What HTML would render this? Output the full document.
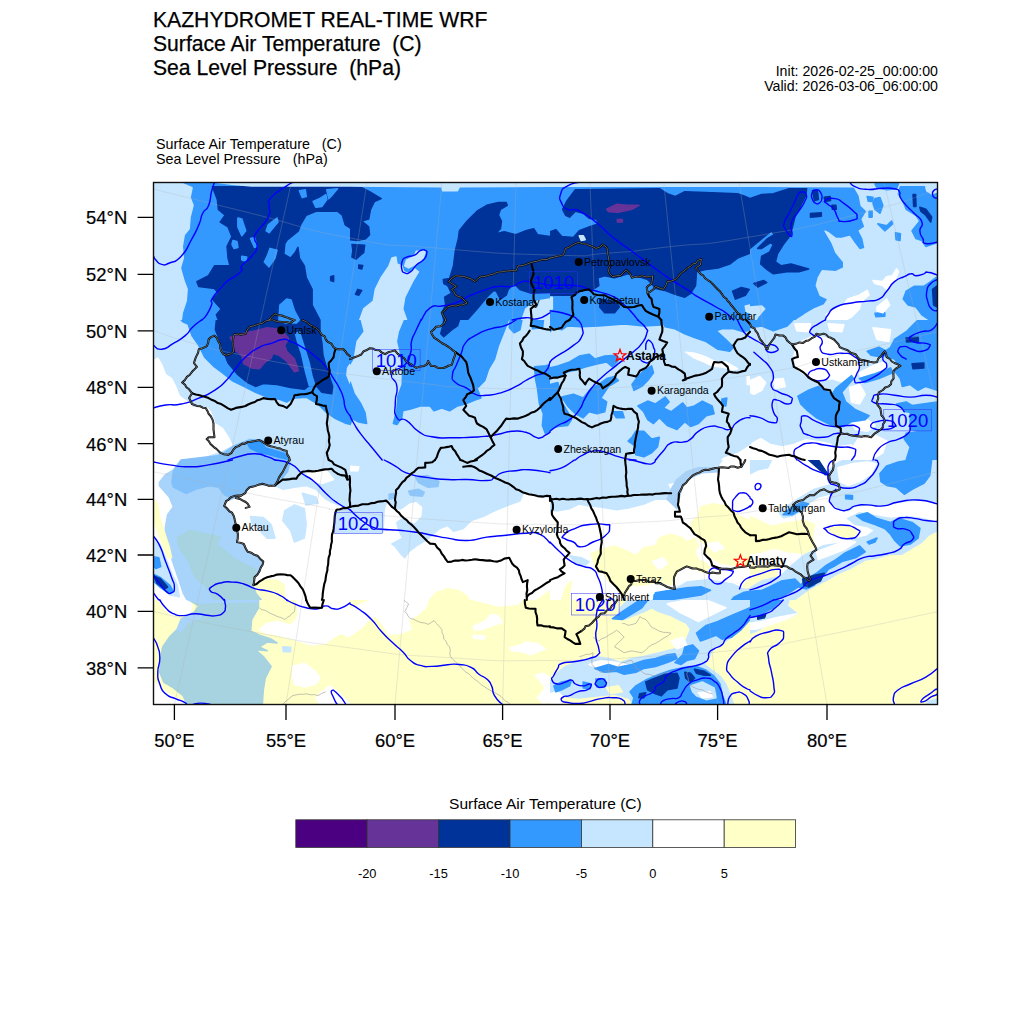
<!DOCTYPE html>
<html><head><meta charset="utf-8"><title>WRF</title>
<style>
html,body{margin:0;padding:0;background:#fff;}
body{width:1024px;height:1024px;overflow:hidden;font-family:"Liberation Sans",sans-serif;}
svg{display:block;position:absolute;left:0;top:0;}
text{font-family:"Liberation Sans",sans-serif;fill:#000;}
.t1{font-size:21.15px;stroke:#000;stroke-width:0.25px;}
.t2{font-size:14.3px;}
.t3{font-size:14.18px;}
.ax{font-size:18.4px;stroke:#000;stroke-width:0.2px;}
.cb{font-size:12.8px;}
.city{font-size:10.6px;}
.cap{font-size:12px;font-weight:bold;}
.cl{font-size:18.5px;fill:#0000ff;}
</style></head><body>
<svg width="1024" height="1024" viewBox="0 0 1024 1024">
<defs><clipPath id="mc"><rect x="153" y="182" width="784" height="522"/></clipPath></defs>
<g clip-path="url(#mc)">
<rect x="153" y="182" width="784" height="522" fill="#ffffff"/>
<!-- fills.svg -->
<defs><clipPath id="t0"><rect x="150.0" y="180.0" width="200.0" height="140.0"/></clipPath><clipPath id="t1"><rect x="350.0" y="180.0" width="200.0" height="140.0"/></clipPath><clipPath id="t2"><rect x="550.0" y="180.0" width="200.0" height="140.0"/></clipPath><clipPath id="t3"><rect x="750.0" y="180.0" width="200.0" height="140.0"/></clipPath><clipPath id="t4"><rect x="150.0" y="320.0" width="200.0" height="140.0"/></clipPath><clipPath id="t5"><rect x="350.0" y="320.0" width="200.0" height="140.0"/></clipPath><clipPath id="t6"><rect x="550.0" y="320.0" width="200.0" height="140.0"/></clipPath><clipPath id="t7"><rect x="750.0" y="320.0" width="200.0" height="140.0"/></clipPath><clipPath id="t8"><rect x="150.0" y="460.0" width="200.0" height="140.0"/></clipPath><clipPath id="t9"><rect x="350.0" y="460.0" width="200.0" height="140.0"/></clipPath><clipPath id="t10"><rect x="550.0" y="460.0" width="200.0" height="140.0"/></clipPath><clipPath id="t11"><rect x="750.0" y="460.0" width="200.0" height="140.0"/></clipPath><clipPath id="t12"><rect x="150.0" y="600.0" width="200.0" height="140.0"/></clipPath><clipPath id="t13"><rect x="350.0" y="600.0" width="200.0" height="140.0"/></clipPath><clipPath id="t14"><rect x="550.0" y="600.0" width="200.0" height="140.0"/></clipPath><clipPath id="t15"><rect x="750.0" y="600.0" width="200.0" height="140.0"/></clipPath></defs>
<g clip-path="url(#t0)" stroke-width="1.6" stroke-linejoin="round"><rect x="149.0" y="179.0" width="202.0" height="142.0" fill="#3399ff"/><polygon fill="#c6e6ff" stroke="#c6e6ff" points="150.0,180.0 183.2,183.9 192.0,187.8 190.0,197.6 193.0,205.4 190.0,217.1 189.1,228.8 184.2,234.7 182.2,246.4 183.2,258.1 180.3,267.9 184.2,281.6 187.1,289.4 186.1,301.1 182.2,312.8 181.2,320.0 150.0,320.0"/><polygon fill="#003399" stroke="#003399" points="212.5,186.8 350.0,186.8 350.0,227.9 345.3,224.9 342.4,215.2 337.5,211.2 316.0,211.2 306.2,215.2 300.4,224.9 298.4,230.8 286.7,240.5 284.8,243.5 283.8,254.2 290.6,258.1 295.5,252.3 297.9,247.4 299.4,258.1 304.3,265.9 306.2,277.7 312.1,289.4 312.1,305.0 319.9,320.0 218.4,320.0 216.4,314.8 221.3,308.9 212.5,299.1 218.4,293.3 214.5,288.4 198.8,286.4 196.9,281.6 208.6,275.7 214.5,265.9 230.1,265.9 228.1,258.1 227.1,246.4 232.0,236.6 228.1,226.9 220.3,222.0 225.2,215.2 218.4,209.3 217.4,199.5"/><polygon fill="#3399ff" stroke="#3399ff" points="237.9,218.1 241.8,219.1 245.7,230.8 241.8,235.7 237.9,226.9"/><polygon fill="#3399ff" stroke="#3399ff" points="233.0,240.5 236.9,241.5 237.9,247.4 234.0,248.4 232.0,244.5"/><polygon fill="#3399ff" stroke="#3399ff" points="277.0,218.1 277.9,222.0 269.1,232.7 266.2,230.8 268.2,224.9"/><polygon fill="#3399ff" stroke="#3399ff" points="250.6,238.6 254.5,237.6 257.0,246.4 254.5,247.4"/><polygon fill="#3399ff" stroke="#3399ff" points="270.1,248.4 277.0,250.3 275.0,258.1 269.1,266.9 264.3,262.0 267.2,256.2"/><polygon fill="#3399ff" stroke="#3399ff" points="241.8,256.2 246.7,257.1 245.7,261.1 241.8,260.1"/><polygon fill="#3399ff" stroke="#3399ff" points="313.1,201.5 319.9,198.6 325.8,194.6 326.8,199.5 321.9,206.4 316.0,207.3"/><polygon fill="#3399ff" stroke="#3399ff" points="299.4,190.7 305.3,189.8 306.2,196.6 302.3,197.6"/><polygon fill="#3399ff" stroke="#3399ff" points="326.8,189.8 337.5,188.8 332.6,194.6 328.7,198.6"/><polygon fill="#3399ff" stroke="#3399ff" points="278.9,320.0 279.9,305.0 286.7,299.1 291.0,300.1 294.5,310.9 299.4,320.0"/><polygon fill="#003399" stroke="#003399" points="330.7,276.7 333.6,275.7 333.6,281.6 330.7,280.6"/><polygon fill="#c6e6ff" stroke="#c6e6ff" points="214.5,182.0 350.0,182.0 350.0,185.9 251.6,185.9 232.0,184.3"/></g>
<g clip-path="url(#t1)" stroke-width="1.6" stroke-linejoin="round"><rect x="349.0" y="179.0" width="202.0" height="142.0" fill="#3399ff"/><polygon fill="#003399" stroke="#003399" points="350.0,186.8 361.7,187.8 369.5,191.7 381.2,198.6 374.4,201.5 370.5,209.3 368.6,219.1 361.7,221.0 368.6,226.9 369.5,234.7 365.6,238.6 357.8,240.5 350.0,239.6"/><polygon fill="#003399" stroke="#003399" points="352.0,244.5 364.6,245.4 363.7,252.3 355.9,259.1 352.0,257.1 352.9,250.3"/><polygon fill="#003399" stroke="#003399" points="357.8,289.4 361.7,290.4 358.8,295.2 355.5,294.3"/><polygon fill="#003399" stroke="#003399" points="358.8,265.0 362.7,265.5 361.7,268.9 358.8,268.3"/><polygon fill="#c6e6ff" stroke="#c6e6ff" points="350.0,182.0 550.0,182.0 550.0,186.2 459.4,186.6 457.4,190.7 442.8,190.7 441.8,186.6 350.0,185.9"/><polygon fill="#c6e6ff" stroke="#c6e6ff" points="359.8,320.0 363.7,308.9 373.4,301.1 375.4,289.4 381.2,277.7 389.1,265.9 392.0,258.1 395.9,257.1 396.9,264.0 401.8,265.9 403.7,271.8 408.6,273.8 414.5,268.9 418.4,271.8 412.5,281.6 404.7,297.2 402.7,308.9 406.6,320.0"/><polygon fill="#c6e6ff" stroke="#c6e6ff" points="416.4,251.3 425.2,251.3 423.2,258.1 416.4,264.0 408.6,267.9 404.7,265.9 406.6,260.1 414.5,256.2"/><polygon fill="#003399" stroke="#003399" points="455.5,250.3 458.4,238.6 459.4,230.8 467.2,221.0 477.0,211.2 486.7,205.4 498.4,202.5 506.2,202.5 507.2,205.4 500.4,209.3 498.4,215.2 501.4,221.0 500.4,228.8 495.5,233.7 504.3,231.8 516.0,234.7 525.8,230.8 533.6,228.8 537.5,234.7 550.0,236.6 550.0,292.3 531.6,293.3 519.9,289.4 514.1,283.5 508.2,289.4 506.2,295.2 500.4,299.1 496.5,291.3 493.6,290.4 486.7,297.2 477.0,308.9 467.2,320.0 443.8,320.0 441.8,312.8 445.7,305.0 444.7,297.2 451.6,293.3 447.7,285.5 443.8,283.5 443.4,279.6 449.6,278.6 453.5,265.9"/><polygon fill="#3399ff" stroke="#3399ff" points="509.2,204.4 515.0,202.5 516.0,205.4 512.1,207.3 514.1,211.2 511.1,209.3"/><polygon fill="#c6e6ff" stroke="#c6e6ff" points="521.9,320.0 525.8,308.9 537.5,301.1 550.0,299.1 550.0,320.0"/></g>
<g clip-path="url(#t2)" stroke-width="1.6" stroke-linejoin="round"><rect x="549.0" y="179.0" width="202.0" height="142.0" fill="#3399ff"/><polygon fill="#c6e6ff" stroke="#c6e6ff" points="550.0,182.0 750.0,182.0 750.0,186.2 550.0,186.2"/><polygon fill="#003399" stroke="#003399" points="575.4,189.8 659.4,188.8 667.2,193.7 675.0,196.6 684.8,191.7 712.1,192.7 737.5,193.7 745.3,196.6 750.0,198.6 750.0,253.2 737.5,258.1 729.7,264.0 718.0,267.9 704.3,269.8 696.5,271.8 695.5,285.5 690.6,293.3 684.8,297.2 675.0,294.3 665.2,290.4 655.5,288.4 651.6,283.5 647.7,279.6 635.9,275.7 628.1,273.8 614.5,277.7 604.7,275.7 597.9,277.7 598.8,285.5 593.0,289.4 576.4,290.4 575.4,295.2 550.0,295.2 550.0,231.8 555.9,229.8 561.7,236.6 573.4,237.6 579.3,230.8 589.1,226.9 597.9,223.9 596.9,219.1 589.1,218.1 583.2,213.2 575.4,211.2 569.5,217.1 565.6,215.2 562.7,209.3 566.6,201.5"/><polygon fill="#003399" stroke="#003399" points="599.8,299.1 616.4,302.1 619.3,307.0 614.5,312.8 604.7,312.8 599.8,307.0"/><polygon fill="#003399" stroke="#003399" points="732.6,291.3 741.4,287.4 749.2,289.4 745.3,295.2 735.5,299.1"/><polygon fill="#c6e6ff" stroke="#c6e6ff" points="579.3,235.7 583.2,235.7 585.2,239.6 581.2,240.5"/><polygon fill="#663399" stroke="#663399" points="606.6,209.3 616.4,204.4 628.1,205.4 638.9,205.4 632.0,209.3 618.4,212.2 608.6,211.6"/><polygon fill="#663399" stroke="#663399" points="617.4,219.6 622.3,219.6 622.3,222.0 617.4,222.0"/><polygon fill="#c6e6ff" stroke="#c6e6ff" points="745.3,306.0 750.0,305.0 750.0,312.8 746.3,311.8"/><polygon fill="#c6e6ff" stroke="#c6e6ff" points="550.0,297.2 552.3,297.2 552.3,308.9 550.0,308.9"/></g>
<g clip-path="url(#t3)" stroke-width="1.6" stroke-linejoin="round"><rect x="749.0" y="179.0" width="202.0" height="142.0" fill="#3399ff"/><polygon fill="#c6e6ff" stroke="#c6e6ff" points="750.0,182.0 853.5,182.0 853.5,186.8 750.0,186.2"/><polygon fill="#c6e6ff" stroke="#c6e6ff" points="851.6,182.0 937.5,182.0 937.5,320.0 796.9,320.0 804.7,314.8 814.5,308.9 824.2,305.0 828.1,299.1 820.3,295.2 816.4,285.5 818.4,277.7 822.3,270.8 835.9,271.8 843.8,267.9 843.8,262.0 835.9,252.3 832.0,242.5 825.2,231.2 828.1,232.7 835.9,238.6 841.8,238.6 849.6,236.6 853.5,242.5 859.4,250.3 865.2,248.4 863.3,238.6 859.4,230.8 865.2,226.9 862.3,219.1 867.2,211.2 861.3,205.4 859.4,195.6"/><polygon fill="#003399" stroke="#003399" points="750.0,198.6 761.7,194.6 773.4,193.7 789.1,188.8 806.6,188.8 805.7,195.6 800.8,205.4 794.9,217.1 792.0,228.8 790.0,235.7 783.2,244.5 777.3,254.2 775.4,262.0 781.2,265.9 791.0,264.0 808.6,268.9 798.8,271.8 787.1,271.8 773.4,273.8 767.6,269.8 760.7,264.0 761.7,256.2 769.5,252.3 773.4,244.5 770.5,242.5 761.7,248.4 757.8,248.4 767.6,238.6 774.4,234.7 771.5,230.8 761.7,238.6 750.0,248.4"/><polygon fill="#003399" stroke="#003399" points="753.9,283.5 763.7,280.6 766.6,282.5 757.8,287.0"/><polygon fill="#003399" stroke="#003399" points="810.5,213.6 821.3,212.8 821.3,216.1 810.5,217.1"/><polygon fill="#003399" stroke="#003399" points="812.5,190.7 817.4,190.7 818.4,199.5 814.5,200.5"/><polygon fill="#003399" stroke="#003399" points="824.2,197.2 830.1,196.6 830.5,200.5 825.2,201.5"/><polygon fill="#003399" stroke="#003399" points="832.0,205.4 835.9,205.4 836.3,209.3 832.4,209.3"/><polygon fill="#3399ff" stroke="#3399ff" points="875.0,183.9 898.4,183.9 896.5,188.8 886.7,189.8 877.0,187.8"/><polygon fill="#3399ff" stroke="#3399ff" points="900.4,186.8 937.5,186.8 937.5,242.5 925.8,246.4 921.9,240.5 916.0,238.6 912.1,230.8 919.9,221.0 916.0,215.2 906.2,209.3 902.3,199.5 898.4,193.7"/><polygon fill="#c6e6ff" stroke="#c6e6ff" points="925.8,186.8 937.5,186.8 937.5,191.7 931.6,193.7 926.8,190.7"/><polygon fill="#3399ff" stroke="#3399ff" points="867.2,196.6 873.0,197.2 872.7,201.5 868.2,201.1"/><polygon fill="#3399ff" stroke="#3399ff" points="875.0,198.6 879.9,197.6 882.8,205.4 879.9,213.2 875.0,209.3 873.0,203.4"/><polygon fill="#3399ff" stroke="#3399ff" points="877.9,223.9 886.7,225.9 891.6,221.0 892.6,223.9 884.8,230.8"/><polygon fill="#3399ff" stroke="#3399ff" points="895.5,232.7 900.4,233.7 900.0,240.5 896.1,239.6"/><polygon fill="#3399ff" stroke="#3399ff" points="869.1,211.2 872.1,211.2 872.1,217.1 869.1,217.1"/><polygon fill="#003399" stroke="#003399" points="913.1,194.6 915.6,194.6 916.0,206.4 913.7,206.4"/><polygon fill="#003399" stroke="#003399" points="919.9,207.3 925.8,209.3 931.6,217.1 930.7,222.0 925.8,215.2 920.9,211.2"/><polygon fill="#3399ff" stroke="#3399ff" points="937.5,276.7 930.7,281.6 923.8,286.4 914.1,286.4 906.2,291.3 903.3,299.1 908.2,305.0 916.0,307.0 921.9,314.8 929.7,320.0 937.5,320.0"/><polygon fill="#003399" stroke="#003399" points="932.6,289.4 937.5,285.5 937.5,307.0 933.6,305.0"/><polygon fill="#3399ff" stroke="#3399ff" points="875.0,313.2 884.8,312.8 884.8,316.3 876.0,316.7"/><polygon fill="#ffffff" stroke="#ffffff" points="873.0,280.6 882.8,281.6 886.7,276.7 892.6,275.7 896.5,268.9 898.4,271.8 894.5,281.6 886.7,289.4 882.8,285.5 875.0,283.5"/><polygon fill="#ffffff" stroke="#ffffff" points="847.7,299.1 859.4,295.2 867.2,290.4 869.1,295.2 861.3,301.1 859.4,308.9 851.6,316.7 845.7,320.0 828.1,320.0 826.2,314.8 835.9,308.9 843.8,305.0"/><polygon fill="#ffffff" stroke="#ffffff" points="877.0,307.0 886.7,299.1 889.6,305.0 882.8,312.8 877.0,310.9"/><polygon fill="#c6e6ff" stroke="#c6e6ff" points="750.0,307.0 761.7,306.0 764.6,308.9 757.8,316.7 755.9,320.0 750.0,320.0"/></g>
<g clip-path="url(#t4)" stroke-width="1.6" stroke-linejoin="round"><rect x="149.0" y="319.0" width="202.0" height="142.0" fill="#c6e6ff"/><polygon fill="#3399ff" stroke="#3399ff" points="181.2,320.0 183.2,322.0 188.1,323.9 192.0,335.6 198.8,345.4 204.7,357.1 214.5,366.9 222.3,372.7 232.0,380.5 243.8,386.4 255.5,392.3 267.2,397.1 278.9,399.1 286.7,402.0 292.6,398.1 306.2,397.1 318.0,404.0 325.8,411.8 335.5,418.6 345.3,423.1 350.0,424.3 350.0,320.0"/><polygon fill="#003399" stroke="#003399" points="216.4,320.0 215.4,329.8 220.3,341.5 224.2,353.2 228.1,363.0 237.9,374.7 247.7,382.5 255.5,386.4 263.3,383.5 277.0,384.5 290.6,387.4 304.3,389.3 309.2,385.4 316.0,385.4 321.9,392.3 331.6,393.8 332.6,386.4 326.8,368.8 322.9,355.2 321.9,343.4 319.9,331.7 319.9,320.0"/><polygon fill="#3399ff" stroke="#3399ff" points="295.5,333.7 299.4,331.7 304.3,347.3 309.2,363.0 312.1,376.6 315.0,385.4 309.2,385.4 305.3,370.8 301.4,353.2 297.5,341.5"/><polygon fill="#3399ff" stroke="#3399ff" points="278.9,320.0 299.4,320.0 296.5,322.9 284.8,322.9"/><polygon fill="#663399" stroke="#663399" points="230.1,337.6 241.8,333.7 255.5,330.7 267.2,327.8 277.0,328.8 284.8,333.7 288.7,338.6 284.8,345.4 286.7,351.2 294.5,359.1 298.4,370.8 294.5,371.8 286.7,361.0 278.9,355.2 273.0,353.2 271.1,358.1 265.2,362.0 259.4,368.8 251.6,367.9 243.8,363.9 241.8,355.2 235.9,351.2 234.0,343.4"/><polygon fill="#ffffff" stroke="#ffffff" points="150.0,363.0 157.8,358.1 161.7,364.9 165.6,374.7 171.5,378.6 176.4,388.4 179.3,396.2 187.1,402.0 193.0,407.9 206.6,407.9 210.5,411.8 214.5,423.5 222.3,428.4 228.1,437.2 232.0,445.0 222.3,449.9 208.6,454.8 196.9,459.1 181.2,460.0 150.0,460.0"/><polygon fill="#82c0fa" stroke="#82c0fa" points="181.2,460.0 217.2,455.9 223.4,452.8 232.8,446.6 250.0,439.5 262.5,440.3 268.8,448.1 285.9,451.2 290.6,460.0"/><polygon fill="#3399ff" stroke="#3399ff" points="246.9,441.9 259.4,440.3 265.6,448.1 284.4,453.6 287.5,459.1 279.7,457.5 268.8,454.4 259.4,452.8 250.0,448.1"/><polygon fill="#c6e6ff" stroke="#c6e6ff" points="350.0,364.5 347.7,367.9 346.9,375.1 350.0,382.9"/></g>
<g clip-path="url(#t5)" stroke-width="1.6" stroke-linejoin="round"><rect x="349.0" y="319.0" width="202.0" height="142.0" fill="#c6e6ff"/><polygon fill="#3399ff" stroke="#3399ff" points="350.0,320.0 359.8,320.0 362.7,331.3 355.7,340.7 354.1,350.1 352.5,359.5 350.0,363.9"/><polygon fill="#3399ff" stroke="#3399ff" points="350.0,382.1 351.0,384.5 354.1,393.8 360.4,403.2 365.0,412.6 366.6,423.5 358.8,422.0 352.5,418.8 350.0,424.7"/><polygon fill="#3399ff" stroke="#3399ff" points="404.7,320.0 399.8,331.7 397.9,341.5 399.8,349.3 402.7,368.8 402.3,384.5 397.9,396.2 396.9,409.8 393.4,423.5 396.9,424.5 401.8,417.7 402.7,410.8 410.5,408.9 420.3,405.9 430.1,405.9 434.0,410.8 441.8,407.9 449.6,410.8 457.4,405.9 465.2,404.0 475.0,400.1 480.9,398.1 479.9,395.2 477.0,388.4 484.8,380.5 488.7,368.8 494.5,359.1 498.4,345.4 502.3,335.6 506.2,325.9 508.2,320.0"/><polygon fill="#3399ff" stroke="#3399ff" points="510.2,320.0 521.9,320.0 519.9,329.8 514.1,332.7 509.2,327.8"/><polygon fill="#003399" stroke="#003399" points="443.8,320.0 459.4,320.0 457.4,325.9 451.6,329.8 443.8,336.6 440.8,333.7 442.8,325.9"/><polygon fill="#3399ff" stroke="#3399ff" points="534.6,366.9 545.3,365.9 550.0,364.9 550.0,431.3 545.3,433.3 542.4,425.5 543.4,413.8 539.5,404.0 537.5,388.4 535.5,378.6"/><polygon fill="#3399ff" stroke="#3399ff" points="532.4,320.0 543.4,320.0 542.6,327.8 532.4,328.8"/></g>
<g clip-path="url(#t6)" stroke-width="1.6" stroke-linejoin="round"><rect x="549.0" y="319.0" width="202.0" height="142.0" fill="#c6e6ff"/><polygon fill="#3399ff" stroke="#3399ff" points="550.0,320.0 661.3,320.0 661.3,324.9 643.8,325.9 624.2,323.9 598.8,325.9 581.2,326.8 567.6,325.9 561.7,329.8 553.9,327.8 550.0,331.7"/><polygon fill="#3399ff" stroke="#3399ff" points="661.3,320.0 750.0,320.0 750.0,329.8 743.4,331.7 733.6,328.8 721.9,328.8 716.0,330.7 725.8,339.5 733.6,347.3 729.7,351.2 718.0,349.3 706.2,341.5 694.5,337.6 684.8,333.7 675.0,328.8 665.2,326.8"/><polygon fill="#ffffff" stroke="#ffffff" points="685.7,352.2 694.5,353.2 706.2,357.1 716.0,362.0 725.8,362.0 737.5,368.8 733.6,369.8 721.9,366.9 712.1,365.9 704.3,362.0 694.5,358.1"/><polygon fill="#ffffff" stroke="#ffffff" points="747.3,376.6 750.0,376.6 750.0,384.5 747.3,384.5"/><polygon fill="#ffffff" stroke="#ffffff" points="721.9,460.0 723.8,458.3 737.5,453.8 750.0,445.8 750.0,460.0"/><polygon fill="#3399ff" stroke="#3399ff" points="550.0,367.9 557.8,365.9 569.5,362.0 579.3,356.1 589.1,354.2 594.9,359.1 604.7,356.1 616.4,355.2 619.3,359.1 612.5,366.9 606.6,362.0 596.9,363.9 585.2,366.9 577.3,369.8 567.6,371.8 559.8,375.7 550.0,378.6"/><polygon fill="#3399ff" stroke="#3399ff" points="550.0,384.5 557.8,382.5 559.8,388.4 556.8,396.2 561.7,402.0 567.6,411.8 571.5,419.6 567.6,425.5 557.8,426.4 550.0,429.4"/><polygon fill="#3399ff" stroke="#3399ff" points="561.7,397.1 573.4,394.2 583.2,398.1 591.0,388.4 598.8,384.5 606.6,378.6 614.5,376.6 618.4,380.5 608.6,386.4 600.8,398.1 606.6,402.0 604.7,411.8 596.9,413.8 589.1,411.8 583.2,417.7 575.4,413.8 567.6,405.9"/><polygon fill="#3399ff" stroke="#3399ff" points="612.5,411.8 622.3,411.8 624.2,417.7 616.4,417.7"/><polygon fill="#3399ff" stroke="#3399ff" points="632.0,384.5 637.9,376.6 643.8,370.8 651.6,365.9 653.5,372.7 647.7,380.5 641.8,386.4 634.0,390.3"/><polygon fill="#3399ff" stroke="#3399ff" points="637.9,405.9 647.7,401.1 655.5,404.0 665.2,397.1 669.1,402.0 663.3,407.9 671.1,411.8 678.9,405.9 682.8,403.0 686.7,407.9 694.5,405.9 702.3,401.1 712.1,405.9 714.1,413.8 706.2,415.7 698.4,423.5 690.6,426.4 684.8,421.6 677.0,429.4 667.2,425.5 659.4,417.7 653.5,423.5 647.7,419.6 643.8,411.8"/><polygon fill="#3399ff" stroke="#3399ff" points="635.9,431.3 643.8,431.3 651.6,439.1 659.4,437.2 657.4,447.0 651.6,452.8 643.8,456.7 635.9,454.8 634.0,445.0 628.1,441.1 632.0,437.2"/><polygon fill="#3399ff" stroke="#3399ff" points="721.9,399.1 726.8,398.1 725.8,405.9 721.9,405.0"/></g>
<g clip-path="url(#t7)" stroke-width="1.6" stroke-linejoin="round"><rect x="749.0" y="319.0" width="202.0" height="142.0" fill="#c6e6ff"/><polygon fill="#3399ff" stroke="#3399ff" points="750.0,320.0 793.0,320.0 787.1,325.9 773.4,330.7 761.7,325.9 750.0,327.8"/><polygon fill="#ffffff" stroke="#ffffff" points="796.9,343.4 814.5,335.6 832.0,339.5 841.8,351.2 855.5,357.1 859.4,366.9 855.5,376.6 843.8,382.5 832.0,378.6 820.3,380.5 808.6,376.6 796.9,368.8 793.9,357.1"/><polygon fill="#ffffff" stroke="#ffffff" points="859.4,372.7 875.0,364.9 884.8,362.0 886.7,368.8 875.0,374.7 861.3,378.6"/><polygon fill="#ffffff" stroke="#ffffff" points="750.0,380.5 759.8,376.6 765.6,382.5 761.7,390.3 753.9,394.2 750.0,392.3"/><polygon fill="#ffffff" stroke="#ffffff" points="773.4,379.6 783.2,378.6 785.2,386.4 775.4,388.4"/><polygon fill="#ffffff" stroke="#ffffff" points="794.9,323.9 810.5,323.9 808.6,331.7 796.9,330.7"/><polygon fill="#ffffff" stroke="#ffffff" points="828.1,323.9 843.8,324.9 841.8,331.7 830.1,330.7"/><polygon fill="#ffffff" stroke="#ffffff" points="873.0,327.8 890.6,329.8 888.7,341.5 877.0,339.5"/><polygon fill="#ffffff" stroke="#ffffff" points="849.6,387.4 859.4,384.5 865.2,394.2 859.4,404.0 851.6,402.0"/><polygon fill="#ffffff" stroke="#ffffff" points="750.0,445.8 753.9,442.3 760.9,438.8 770.3,444.6 782.0,447.0 793.8,444.6 805.5,439.9 821.9,442.3 831.2,444.6 835.9,452.8 835.9,460.0 750.0,460.0"/><polygon fill="#ffffff" stroke="#ffffff" points="835.9,447.0 851.6,445.0 855.5,456.7 853.5,460.0 835.9,460.0"/><polygon fill="#ffffff" stroke="#ffffff" points="851.6,421.6 867.2,419.6 875.0,425.5 867.2,431.3 855.5,429.4"/><polygon fill="#ffffff" stroke="#ffffff" points="859.4,437.2 875.0,435.2 886.7,441.1 882.8,452.8 871.1,460.0 855.5,460.0 851.6,448.9"/><polygon fill="#3399ff" stroke="#3399ff" points="797.9,396.2 808.6,390.3 818.4,386.4 832.0,394.2 835.9,388.4 851.6,375.7 853.5,378.6 841.8,392.3 845.7,402.0 855.5,409.8 869.1,415.7 865.2,419.6 851.6,421.6 843.8,426.4 832.0,425.5 816.4,417.7 806.6,409.8 800.8,404.0"/><polygon fill="#3399ff" stroke="#3399ff" points="894.5,339.5 906.2,331.7 918.0,320.0 937.5,320.0 937.5,390.3 925.8,386.4 918.0,390.3 910.2,384.5 902.3,386.4 900.4,378.6 894.5,370.8 900.4,366.9 894.5,359.1 886.7,357.1 882.8,353.2 890.6,347.3"/><polygon fill="#3399ff" stroke="#3399ff" points="867.2,351.2 878.9,347.3 886.7,351.2 882.8,357.1 871.1,355.2"/><polygon fill="#3399ff" stroke="#3399ff" points="859.4,378.6 875.0,373.7 890.6,367.9 892.6,372.7 878.9,378.6 865.2,382.5"/><polygon fill="#003399" stroke="#003399" points="912.1,363.9 923.8,363.0 923.8,367.9 913.1,368.8"/><polygon fill="#003399" stroke="#003399" points="906.2,338.0 918.0,337.2 918.4,341.1 906.6,341.9"/><polygon fill="#3399ff" stroke="#3399ff" points="906.2,433.3 921.9,431.3 929.7,437.2 937.5,441.1 937.5,460.0 906.2,460.0 910.2,447.0 904.3,439.1"/><polygon fill="#3399ff" stroke="#3399ff" points="896.5,404.0 906.2,402.0 916.0,407.9 919.9,413.8 906.2,411.8"/><polygon fill="#3399ff" stroke="#3399ff" points="910.2,405.9 937.5,402.0 937.5,441.1 929.7,437.2 921.9,431.3 910.2,429.4"/></g>
<g clip-path="url(#t8)" stroke-width="1.6" stroke-linejoin="round"><rect x="149.0" y="459.0" width="202.0" height="142.0" fill="#ffffff"/><polygon fill="#c6e6ff" stroke="#c6e6ff" points="286.7,460.0 350.0,460.0 350.0,506.9 337.5,504.9 325.8,499.1 316.0,489.3 306.2,485.4 294.5,487.3 282.8,489.3 275.0,485.4 278.9,477.6 284.8,467.8"/><polygon fill="#ffffff" stroke="#ffffff" points="306.2,471.7 325.8,469.8 333.6,479.5 321.9,483.4 310.2,479.5"/><polygon fill="#c6e6ff" stroke="#c6e6ff" points="250.6,516.6 263.3,517.6 271.1,524.5 275.0,538.1 267.2,538.1 259.4,530.3 251.6,522.5"/><polygon fill="#c6e6ff" stroke="#c6e6ff" points="284.8,510.8 294.5,504.9 304.3,508.8 306.2,524.5 304.3,538.1 294.5,542.0 290.6,530.3 282.8,520.5"/><polygon fill="#c6e6ff" stroke="#c6e6ff" points="302.3,493.2 316.0,497.1 318.0,503.0 306.2,504.9"/><polygon fill="#c6e6ff" stroke="#c6e6ff" points="335.2,511.6 350.0,508.8 350.0,532.7 335.2,532.7"/><polygon fill="#a8d4fb" stroke="#a8d4fb" points="181.2,460.0 286.7,460.0 284.8,467.8 278.9,477.6 275.0,485.4 259.4,484.4 249.6,487.3 241.8,495.2 226.2,501.0 224.2,505.9 232.0,512.7 235.9,524.5 237.9,534.2 236.9,542.0 243.8,544.0 247.7,551.8 257.4,555.7 263.3,561.6 259.4,571.3 254.5,577.2 253.5,585.0 259.4,592.8 263.3,600.0 187.1,600.0 183.2,592.8 179.3,581.1 175.4,569.4 171.5,557.7 167.6,547.9 164.6,538.1 165.6,526.4 167.6,514.7 173.4,506.9 169.5,497.1 159.4,485.6 159.4,482.5 165.6,474.6 173.4,470.0"/><polygon fill="#82c0fa" stroke="#82c0fa" points="181.2,460.0 173.4,471.5 171.9,482.5 173.4,487.1 185.9,493.4 196.9,488.7 209.4,485.6 218.8,487.1 223.4,493.4 225.0,495.0 231.2,498.1 237.5,496.5 243.8,493.4 250.0,487.1 259.4,484.0 275.0,485.6 279.7,480.9 287.5,471.5 290.6,460.0"/><polygon fill="#a6d3df" stroke="#a6d3df" points="177.3,538.1 189.1,530.3 220.3,537.1 216.4,544.0 235.9,559.6 255.5,569.4 253.5,585.0 263.3,600.0 214.5,600.0 204.7,585.0 194.9,577.2 189.1,561.6 179.3,547.9"/><polygon fill="#ffffc8" stroke="#ffffc8" points="254.5,585.0 263.3,580.1 277.0,580.1 283.8,585.0 284.8,600.0 263.3,600.0 257.4,592.8"/><polygon fill="#ffffc8" stroke="#ffffc8" points="153.5,499.1 157.8,504.9 159.8,518.6 163.7,530.3 169.5,547.9 171.5,557.7 167.6,557.7 161.7,542.0 155.9,526.4 153.5,518.6"/><polygon fill="#c6e6ff" stroke="#c6e6ff" points="153.5,538.1 159.8,544.0 165.6,557.7 171.5,573.3 177.3,585.0 179.3,596.7 169.5,594.8 161.7,587.0 153.5,581.1"/><polygon fill="#3399ff" stroke="#3399ff" points="153.5,556.7 158.8,557.7 160.7,566.4 155.9,568.4 153.5,566.4"/><polygon fill="#3399ff" stroke="#3399ff" points="153.5,574.3 159.8,577.2 169.5,585.0 173.0,591.2 168.6,592.8 159.8,587.0 153.5,581.1"/><polygon fill="#003399" stroke="#003399" points="154.3,576.2 160.7,579.1 167.6,587.0 164.6,588.9 156.8,583.0"/></g>
<g clip-path="url(#t9)" stroke-width="1.6" stroke-linejoin="round"><rect x="349.0" y="459.0" width="202.0" height="142.0" fill="#ffffff"/><polygon fill="#c6e6ff" stroke="#c6e6ff" points="350.0,460.0 550.0,460.0 550.0,497.1 537.5,496.1 523.8,492.2 519.9,501.0 506.2,505.9 494.5,510.8 482.8,516.6 471.1,520.5 463.3,528.4 453.5,531.3 447.7,525.4 439.8,528.4 432.0,535.2 426.2,540.1 416.4,545.9 408.6,551.8 404.7,557.7 400.8,553.8 394.9,545.9 392.0,544.0 402.7,538.1 398.8,530.3 396.9,522.5 402.7,518.6 414.5,524.5 422.3,516.6 423.2,506.9 416.4,501.0 408.6,503.0 400.8,508.8 394.9,508.8 387.1,501.0 384.2,508.8 382.8,532.7 350.0,532.7"/><polygon fill="#ffffff" stroke="#ffffff" points="350.0,466.2 358.8,466.8 357.8,470.7 350.0,470.7"/><polygon fill="#8fc6fa" stroke="#8fc6fa" points="415.4,476.6 428.1,475.6 438.9,481.5 437.9,486.4 428.1,487.3 418.4,482.5"/><polygon fill="#8fc6fa" stroke="#8fc6fa" points="408.6,491.2 418.4,489.3 424.2,492.2 422.3,496.1 410.5,495.2"/><polygon fill="#8fc6fa" stroke="#8fc6fa" points="389.1,494.2 394.9,493.2 393.9,498.1 389.1,499.1"/><polygon fill="#ffffc8" stroke="#ffffc8" points="430.1,600.0 435.9,592.8 447.7,588.9 459.4,590.9 467.2,596.7 469.1,600.0"/><polygon fill="#ffffc8" stroke="#ffffc8" points="537.5,600.0 550.0,590.9 550.0,600.0"/></g>
<g clip-path="url(#t10)" stroke-width="1.6" stroke-linejoin="round"><rect x="549.0" y="459.0" width="202.0" height="142.0" fill="#ffffff"/><polygon fill="#c6e6ff" stroke="#c6e6ff" points="550.0,460.0 721.9,460.0 718.0,465.9 702.3,468.8 690.6,469.8 682.8,475.6 677.0,481.5 667.2,483.4 671.1,493.2 667.2,499.1 655.5,499.1 643.8,503.9 628.1,507.9 616.4,509.8 600.8,506.9 589.1,505.9 579.3,503.9 569.5,508.8 557.8,510.8 550.0,510.8"/><polygon fill="#a9d1f6" stroke="#a9d1f6" points="671.1,489.3 677.0,479.5 686.7,471.7 698.4,467.8 718.0,467.8 718.0,471.7 702.3,472.7 690.6,477.6 682.8,485.4 678.9,499.1 677.0,508.8 671.1,503.0 667.2,499.1"/><polygon fill="#ffffc8" stroke="#ffffc8" points="700.4,506.9 712.1,503.9 725.8,505.9 733.6,512.7 745.3,518.6 750.0,520.5 750.0,565.5 735.5,565.5 721.9,563.5 712.1,557.7 706.2,551.8 704.3,544.0 698.4,538.1 694.5,532.3 690.6,526.4 692.6,520.5 698.4,516.6"/><polygon fill="#ffffff" stroke="#ffffff" points="706.2,544.0 718.0,542.0 723.8,547.9 714.1,551.8"/><polygon fill="#ffffc8" stroke="#ffffc8" points="591.0,553.8 600.8,549.8 614.5,545.9 628.1,551.8 635.9,555.7 643.8,547.9 655.5,545.9 659.4,538.1 671.1,534.2 682.8,538.1 686.7,542.0 694.5,538.1 698.4,545.9 694.5,551.8 698.4,559.6 706.2,563.5 712.1,569.4 702.3,572.3 688.7,565.5 678.9,569.4 675.0,577.2 671.1,585.0 659.4,581.1 643.8,585.0 632.0,585.0 624.2,594.8 618.4,588.9 608.6,581.1 602.7,571.3 594.9,565.5"/><polygon fill="#ffffff" stroke="#ffffff" points="652.5,561.6 663.3,557.7 667.2,563.5 659.4,569.4"/><polygon fill="#ffffc8" stroke="#ffffc8" points="561.7,600.0 565.6,587.0 571.5,581.1 569.5,592.8 571.5,600.0"/><polygon fill="#c6e6ff" stroke="#c6e6ff" points="672.9,600.0 672.9,590.3 686.9,582.1 708.0,579.7 733.8,584.4 743.2,589.1 750.0,587.9 750.0,600.0"/><polygon fill="#ffffc8" stroke="#ffffc8" points="743.2,585.6 750.0,577.2 750.0,587.0 745.3,587.9"/><polygon fill="#3399ff" stroke="#3399ff" points="654.1,595.0 670.5,590.3 686.9,587.9 701.0,586.8 710.4,590.3 701.0,595.0 686.9,597.3 668.2,600.0 654.1,600.0"/><polygon fill="#3399ff" stroke="#3399ff" points="733.8,597.3 743.2,592.6 750.0,591.4 750.0,600.0 731.6,600.0"/><polygon fill="#3399ff" stroke="#3399ff" points="655.5,592.8 667.2,590.9 675.0,594.8 671.1,600.0 653.5,600.0"/><polygon fill="#c6e6ff" stroke="#c6e6ff" points="569.5,555.7 581.2,557.7 589.1,561.6 585.2,565.5 575.4,562.5"/></g>
<g clip-path="url(#t11)" stroke-width="1.6" stroke-linejoin="round"><rect x="749.0" y="459.0" width="202.0" height="142.0" fill="#ffffff"/><polygon fill="#ffffc8" stroke="#ffffc8" points="750.0,516.6 771.5,526.4 789.1,522.5 804.7,520.5 814.5,524.5 812.5,536.2 814.5,545.9 806.6,553.8 789.1,551.8 773.4,547.9 761.7,551.8 750.0,553.8"/><polygon fill="#ffffc8" stroke="#ffffc8" points="827.1,527.4 841.8,525.4 855.5,528.4 857.4,534.2 847.7,538.1 834.0,535.2"/><polygon fill="#ffffc8" stroke="#ffffc8" points="750.0,565.5 761.7,566.4 779.3,567.4 775.4,577.2 761.7,585.0 750.0,588.9"/><polygon fill="#c6e6ff" stroke="#c6e6ff" points="750.0,460.0 771.5,460.0 767.6,467.8 757.8,469.8 750.0,473.7"/><polygon fill="#c6e6ff" stroke="#c6e6ff" points="828.1,471.7 835.9,463.9 843.8,460.0 937.5,460.0 937.5,502.0 918.0,500.0 898.4,502.0 882.8,505.9 867.2,504.9 855.5,505.9 847.7,510.8 837.9,507.9 830.1,501.0 832.0,493.2 835.9,487.3 828.1,481.5"/><polygon fill="#ffffff" stroke="#ffffff" points="837.9,467.8 851.6,463.9 867.2,462.0 876.0,463.9 871.1,473.7 859.4,481.5 847.7,485.4 839.8,481.5"/><polygon fill="#3399ff" stroke="#3399ff" points="879.9,473.7 886.7,465.9 898.4,462.0 910.2,460.0 931.6,460.0 929.7,475.6 923.8,483.4 912.1,489.3 904.3,494.2 896.5,487.3 886.7,485.4 880.9,481.5"/><polygon fill="#3399ff" stroke="#3399ff" points="845.7,495.2 852.5,495.5 852.5,499.1 845.7,498.7"/><polygon fill="#003399" stroke="#003399" points="808.6,460.0 818.4,460.0 828.1,474.6 825.2,474.6"/><polygon fill="#c6e6ff" stroke="#c6e6ff" points="779.3,512.7 789.1,504.9 800.8,497.1 814.5,489.3 828.1,485.4 835.9,487.3 832.0,493.2 818.4,497.1 808.6,503.0 800.8,510.8 793.0,515.7 783.2,517.6"/><polygon fill="#3399ff" stroke="#3399ff" points="783.2,514.7 792.0,506.9 802.7,502.0 808.6,503.9 800.8,509.8 792.0,514.7"/><polygon fill="#c6e6ff" stroke="#c6e6ff" points="847.7,518.6 859.4,512.7 875.0,515.7 890.6,518.6 906.2,516.6 921.9,518.6 937.5,522.5 937.5,532.3 929.7,536.2 921.9,544.0 912.1,549.8 902.3,555.7 890.6,555.7 877.0,559.6 865.2,561.6 851.6,569.4 837.9,575.2 828.1,581.1 816.4,587.0 806.6,592.8 796.9,600.0 750.0,600.0 750.0,587.9 761.9,580.9 780.7,576.2 790.0,566.8 804.1,555.1 822.9,545.9 841.8,543.0 855.5,539.1 867.2,536.2 875.0,530.3 867.2,526.4 855.5,524.5"/><polygon fill="#ffffc8" stroke="#ffffc8" points="937.5,532.3 929.7,536.2 921.9,544.0 912.1,549.8 902.3,555.7 890.6,555.7 877.0,559.6 865.2,561.6 851.6,569.4 837.9,575.2 828.1,581.1 816.4,587.0 806.6,592.8 796.9,600.0 937.5,600.0"/><polygon fill="#3399ff" stroke="#3399ff" points="856.4,515.7 867.2,512.7 877.0,518.6 890.6,522.5 898.4,518.6 912.1,522.5 919.9,528.4 918.0,538.1 910.2,544.0 900.4,545.9 894.5,540.1 890.6,534.2 884.8,528.4 875.0,524.5 863.3,520.5"/><polygon fill="#3399ff" stroke="#3399ff" points="867.2,542.0 877.0,538.1 875.0,542.0 869.1,544.0"/><polygon fill="#3399ff" stroke="#3399ff" points="843.8,553.8 859.4,545.9 865.2,551.8 855.5,557.7 841.8,561.6 834.0,566.4 828.1,569.4 824.2,575.2 816.4,579.1 814.5,585.0 806.6,588.9 798.8,587.0 806.6,579.1 816.4,573.3 826.2,565.5 835.9,559.6"/><polygon fill="#003399" stroke="#003399" points="802.7,579.1 814.5,575.2 824.2,573.3 820.3,581.1 808.6,587.0 803.7,585.0"/><polygon fill="#ffffff" stroke="#ffffff" points="816.4,551.8 832.0,545.9 847.7,540.1 855.5,542.0 843.8,549.8 828.1,555.7 818.4,559.6"/><polygon fill="#3399ff" stroke="#3399ff" points="750.0,591.4 761.9,590.3 769.5,587.0 781.2,581.1 794.9,579.1 800.8,585.0 789.1,592.8 775.4,600.0 750.0,600.0"/></g>
<g clip-path="url(#t12)" stroke-width="1.6" stroke-linejoin="round"><rect x="149.0" y="599.0" width="202.0" height="142.0" fill="#ffffc8"/><polygon fill="#ffffff" stroke="#ffffff" points="159.8,600.0 189.1,600.0 192.0,605.9 191.0,611.7 183.2,614.6 173.4,615.6 165.6,609.8"/><polygon fill="#ffffff" stroke="#ffffff" points="259.4,629.3 267.2,623.4 278.9,621.5 290.6,625.4 296.5,619.5 298.4,611.7 296.5,600.0 350.0,600.0 350.0,637.1 341.4,633.2 333.6,637.1 325.8,643.0 312.1,644.9 298.4,641.0 286.7,637.1 275.0,634.2 265.2,633.2"/><polygon fill="#ffffff" stroke="#ffffff" points="292.6,666.4 304.3,663.5 314.1,670.3 319.9,678.1 316.0,684.0 304.3,686.9 294.5,684.0 292.6,676.2"/><polygon fill="#ffffff" stroke="#ffffff" points="321.9,691.8 329.7,685.9 337.5,691.8 345.3,699.6 350.0,704.5 319.9,704.5 316.0,697.7"/><polygon fill="#ffffff" stroke="#ffffff" points="153.5,682.0 159.8,687.9 171.5,695.7 183.2,701.6 185.2,704.5 153.5,704.5"/><polygon fill="#c6e6ff" stroke="#c6e6ff" points="282.8,646.9 290.6,647.3 290.6,651.8 283.2,651.8"/><polygon fill="#a6d3df" stroke="#a6d3df" points="189.1,600.0 258.4,600.0 258.4,607.8 251.6,619.5 250.6,631.2 259.4,635.2 271.1,639.1 277.0,643.0 267.2,642.0 259.4,646.9 267.2,650.8 255.5,649.8 263.3,656.6 271.1,666.4 265.2,678.1 263.3,689.8 262.3,704.5 187.1,704.5 183.2,695.7 173.4,687.9 163.7,682.0 159.8,672.3 160.7,658.6 162.7,646.9 169.5,637.1 177.3,629.3 181.2,619.5 187.1,615.6 194.9,611.7 198.8,605.9"/><polygon fill="#a8d4fb" stroke="#a8d4fb" points="177.3,630.3 181.2,619.5 189.1,615.6 202.7,615.2 198.8,618.6 187.1,622.5 181.2,631.2"/><polygon fill="#a8d4fb" stroke="#a8d4fb" points="188.1,600.0 258.4,600.0 258.4,601.6 224.2,602.3 198.8,602.9"/></g>
<g clip-path="url(#t13)" stroke-width="1.6" stroke-linejoin="round"><rect x="349.0" y="599.0" width="202.0" height="142.0" fill="#ffffc8"/><polygon fill="#ffffff" stroke="#ffffff" points="350.0,609.8 361.7,603.9 371.5,600.0 428.1,600.0 425.2,607.8 416.4,615.6 408.6,619.5 410.9,629.3 400.8,633.2 389.1,634.2 382.2,623.4 375.4,615.6 369.5,619.5 361.7,627.3 353.9,633.2 350.0,635.2"/><polygon fill="#ffffff" stroke="#ffffff" points="475.0,600.0 521.9,600.0 518.0,603.9 498.4,605.9 486.7,602.9"/><polygon fill="#ffffff" stroke="#ffffff" points="473.0,626.4 484.8,621.5 490.6,614.6 498.4,615.6 502.3,622.5 492.6,625.4 482.8,629.3 475.0,630.3"/><polygon fill="#ffffff" stroke="#ffffff" points="473.0,635.2 484.8,636.1 483.8,639.1 474.0,638.1"/><polygon fill="#ffffff" stroke="#ffffff" points="509.2,647.9 521.9,644.9 525.8,642.0 537.5,643.9 545.3,648.8 537.5,651.8 531.6,654.7 521.9,651.8 512.1,650.8"/><polygon fill="#ffffff" stroke="#ffffff" points="535.5,675.2 543.4,673.2 550.0,678.1 550.0,701.6 543.4,703.5 537.5,697.7 545.3,687.9 539.5,680.1"/></g>
<g clip-path="url(#t14)" stroke-width="1.6" stroke-linejoin="round"><rect x="549.0" y="599.0" width="202.0" height="142.0" fill="#ffffc8"/><polygon fill="#c6e6ff" stroke="#c6e6ff" points="550.0,682.0 555.9,674.2 565.6,666.4 581.2,660.5 594.9,656.6 608.6,658.6 620.3,662.5 632.0,658.6 643.8,656.6 659.4,652.7 675.0,648.8 684.8,644.9 686.7,639.1 690.6,629.3 686.7,623.4 678.9,619.5 671.1,615.6 659.4,611.7 651.6,607.8 643.8,611.7 634.0,615.6 624.2,619.5 618.4,615.6 620.3,607.8 628.1,600.0 750.0,600.0 750.0,617.6 741.4,627.3 731.6,637.1 719.9,644.9 712.1,650.8 708.2,658.6 704.3,664.5 712.1,670.3 719.9,676.2 725.8,684.0 729.7,693.8 733.6,704.5 550.0,704.5"/><polygon fill="#ffffff" stroke="#ffffff" points="667.2,603.9 686.7,600.0 706.2,600.0 725.8,607.8 710.2,615.6 698.4,621.5 690.6,617.6 678.9,611.7"/><polygon fill="#ffffff" stroke="#ffffff" points="671.1,641.0 682.8,637.1 686.7,644.9 677.0,648.8"/><polygon fill="#ffffff" stroke="#ffffff" points="589.1,664.5 600.8,660.5 616.4,662.5 628.1,665.4 614.5,667.4 598.8,667.4"/><polygon fill="#ffffff" stroke="#ffffff" points="550.0,693.8 557.8,691.8 563.7,697.7 561.7,704.5 550.0,704.5"/><polygon fill="#ffffc8" stroke="#ffffc8" points="606.6,687.9 618.4,685.9 622.3,691.8 610.5,693.8"/><polygon fill="#ffffc8" stroke="#ffffc8" points="561.7,697.7 579.3,699.6 594.9,697.7 614.5,695.7 628.1,699.6 632.0,704.5 563.7,704.5"/><polygon fill="#3399ff" stroke="#3399ff" points="696.5,633.2 706.2,625.4 718.0,621.5 731.6,615.6 745.3,609.8 750.0,607.8 750.0,619.5 741.4,629.3 731.6,637.1 721.9,639.1 716.0,635.2 706.2,639.1 700.4,641.0"/><polygon fill="#3399ff" stroke="#3399ff" points="612.5,618.6 622.3,611.7 634.0,603.9 639.8,600.0 647.7,600.0 641.8,607.8 632.0,613.7 622.3,619.5"/><polygon fill="#3399ff" stroke="#3399ff" points="594.9,668.4 608.6,664.5 618.4,667.4 632.0,664.5 643.8,660.5 655.5,658.6 667.2,654.7 675.0,653.7 677.0,658.6 667.2,662.5 655.5,666.4 643.8,668.4 635.9,672.3 624.2,674.2 616.4,671.3 604.7,672.3"/><polygon fill="#3399ff" stroke="#3399ff" points="684.8,646.9 692.6,644.9 698.4,650.8 694.5,658.6 686.7,660.5 680.9,664.5 675.0,662.5 682.8,654.7"/><polygon fill="#3399ff" stroke="#3399ff" points="630.1,691.8 635.9,685.9 645.7,680.1 659.4,674.2 671.1,670.3 684.8,667.4 696.5,666.4 706.2,670.3 714.1,676.2 719.9,684.0 721.9,693.8 725.8,704.5 632.0,704.5 634.0,697.7"/><polygon fill="#3399ff" stroke="#3399ff" points="553.9,685.9 561.7,682.0 571.5,680.1 569.5,685.9 561.7,689.8 555.9,691.8"/><polygon fill="#3399ff" stroke="#3399ff" points="583.2,682.0 591.0,684.0 590.0,688.9 583.2,687.9"/><polygon fill="#3399ff" stroke="#3399ff" points="595.9,679.1 604.7,679.1 605.7,685.9 596.9,686.9"/><polygon fill="#003399" stroke="#003399" points="645.7,682.0 655.5,678.1 665.2,674.2 677.0,673.2 678.9,678.1 677.0,687.9 667.2,689.8 661.3,695.7 655.5,693.8 647.7,689.8"/><polygon fill="#003399" stroke="#003399" points="684.8,672.3 690.6,673.2 694.5,678.1 690.6,682.0 685.7,678.1"/><polygon fill="#003399" stroke="#003399" points="694.5,669.3 704.3,671.3 710.2,675.2 704.3,675.2 696.5,673.2"/><polygon fill="#003399" stroke="#003399" points="639.8,693.8 645.7,692.8 643.8,697.7 638.9,697.7"/><polygon fill="#c6e6ff" stroke="#c6e6ff" points="690.6,685.9 702.3,682.0 714.1,687.9 716.0,697.7 706.2,699.6 696.5,695.7 692.6,691.8"/><polygon fill="#ffffff" stroke="#ffffff" points="698.4,692.8 710.2,691.8 712.1,696.7 702.3,697.7"/></g>
<g clip-path="url(#t15)" stroke-width="1.6" stroke-linejoin="round"><rect x="749.0" y="599.0" width="202.0" height="142.0" fill="#ffffc8"/><polygon fill="#c6e6ff" stroke="#c6e6ff" points="750.0,600.0 789.1,600.0 787.1,605.9 796.9,613.7 789.1,617.6 777.3,621.5 765.6,625.4 755.9,631.2 750.0,633.2"/><polygon fill="#ffffff" stroke="#ffffff" points="750.0,623.4 761.7,621.5 777.3,617.6 796.9,613.7 785.2,619.5 767.6,625.4 755.9,629.3 750.0,629.3"/><polygon fill="#3399ff" stroke="#3399ff" points="750.0,600.0 781.2,600.0 773.4,607.8 761.7,613.7 750.0,617.6"/><polygon fill="#003399" stroke="#003399" points="757.8,616.6 765.6,614.6 764.6,617.6 757.8,619.1"/><polygon fill="#c6e6ff" stroke="#c6e6ff" points="927.7,701.6 937.5,698.6 937.5,704.5 926.8,704.5"/></g>
<!-- sea.svg -->

<!-- grid.svg -->
<g fill="none" stroke="#b0b0b0" stroke-width="0.5" opacity="0.55"><path d="M174.4 704.5L291.5 182"/><path d="M286.0 704.5L367.0 182"/><path d="M395.0 704.5L442.0 182"/><path d="M502.6 704.5L516.0 182"/><path d="M610.0 704.5L590.0 182"/><path d="M717.6 704.5L663.7 182"/><path d="M827.0 704.5L738.9 182"/><path d="M884 182L937.5 409"/><path d="M153.0 189.0C185.3 197.0 184.3 196.7 250.0 213.0C315.7 229.3 288.0 226.3 350.0 238.0C412.0 249.7 369.3 242.3 436.0 248.0C502.7 253.7 492.0 253.3 550.0 255.0C608.0 256.7 571.0 255.7 610.0 253.0C649.0 250.3 620.3 252.3 667.0 247.0C713.7 241.7 687.3 247.7 750.0 237.0C812.7 226.3 792.7 230.7 855.0 215.0C917.3 199.3 909.7 198.3 937.0 190.0"/><path d="M153.5 330.7C168.7 335.5 166.3 336.2 199.0 345.0C231.7 353.8 209.2 348.3 251.5 357.0C293.8 365.7 293.2 365.2 326.0 371.0C358.8 376.8 317.3 370.3 350.0 374.5C382.7 378.7 385.0 379.2 424.0 383.5C463.0 387.8 425.0 385.7 467.0 387.4C509.0 389.1 496.3 388.6 550.0 388.5C603.7 388.4 561.3 391.5 628.0 387.0C694.7 382.5 676.8 386.3 750.0 375.0C823.2 363.7 785.1 367.4 847.6 353.0C910.1 338.6 907.5 338.8 937.5 331.7"/><path d="M153.5 471.7C171.9 475.6 177.2 476.3 208.6 483.4C240.0 490.5 211.8 485.5 247.6 493.0C283.4 500.5 281.9 499.8 316.0 506.0C350.1 512.2 306.1 506.7 350.0 511.5C393.9 516.3 380.9 516.2 447.6 520.5C514.3 524.8 487.9 523.8 550.0 524.5C612.1 525.2 584.5 524.8 634.0 522.5C683.5 520.2 659.7 521.1 698.4 517.6C737.1 514.1 706.8 518.5 750.0 512.0C793.2 505.5 765.5 511.4 828.0 498.0C890.5 484.6 901.0 480.5 937.5 471.7"/><path d="M153.5 611.7C184.9 618.1 182.2 618.9 247.7 631.0C313.2 643.1 283.3 639.0 350.0 647.9C416.7 656.8 381.0 653.4 447.7 657.6C514.4 661.8 483.3 660.8 550.0 660.5C616.7 660.2 581.0 660.7 647.7 656.6C714.4 652.5 693.8 654.8 750.0 648.3C806.2 641.8 753.9 649.2 816.4 637.0C878.9 624.8 897.1 620.1 937.5 611.7"/></g>
<!-- thin.svg -->
<g fill="none" stroke="#999" stroke-width="0.6" stroke-linejoin="round"><polyline points="403.7,600.0 405.6,601.6 408.6,603.9 406.9,607.4 404.7,611.7 407.1,613.7 408.0,616.2 410.5,618.6 413.1,619.0 416.1,620.5 419.0,621.9 422.0,622.7 425.0,623.0 428.1,624.4 431.0,622.7 434.0,620.5 436.6,623.6 438.7,625.9 441.8,629.3 442.0,632.5 443.5,635.7 443.8,639.1 446.1,641.2 447.3,644.5 449.6,646.9 450.3,650.5 449.8,653.4 450.6,656.6 452.5,659.1 455.1,661.3 457.5,663.8 459.4,665.4 461.7,668.2 463.8,670.2 465.9,672.1 469.2,674.1 471.1,676.2 473.7,678.7 476.9,680.7 479.1,682.6 481.4,684.8 484.8,686.9 487.3,688.7 489.7,690.0 492.5,691.4 496.3,693.5 498.4,694.7 501.0,696.5 502.6,698.1 505.5,701.2 508.1,702.2 510.2,704.5"/>
<polyline points="593.0,637.1 595.4,638.9 598.8,641.0 601.5,638.8 605.6,637.3 608.6,635.2 611.2,633.8 613.7,632.3 616.4,630.3 619.1,632.1 621.7,634.8 624.2,637.1 621.8,639.2 619.6,641.6 616.7,644.1 614.5,646.9 617.4,648.4 621.3,651.0 624.2,652.7 627.6,651.8 632.0,650.8 634.8,651.6 638.4,652.1 641.8,652.7 644.6,651.1 646.9,648.6 648.6,647.0 651.6,644.9 655.5,643.4 659.4,641.0 662.8,638.7 665.1,637.4 668.1,635.7 671.1,633.2 666.6,632.4 663.7,632.4 659.4,631.2 655.5,629.0 651.6,627.3 649.7,624.5 647.9,621.9 645.7,619.5 642.4,618.2 639.8,616.6 638.2,620.0 635.9,623.4 632.1,624.5 628.1,625.4 625.2,623.8 622.3,623.4"/>
<polyline points="579.3,656.6 583.0,655.8 586.0,654.3 589.8,654.3 593.0,652.7 592.6,657.1 591.8,660.6 592.0,664.5 594.6,667.1 598.0,670.1 600.8,672.3 604.2,672.2 607.4,670.8 611.0,671.1 614.5,670.3 617.3,667.2 619.4,664.8 622.3,662.5 625.5,662.3 628.5,660.7 632.0,660.5 634.5,664.9 635.9,668.4 639.5,669.8 642.2,671.9 645.7,674.2 649.5,674.4 651.8,675.2 655.5,676.2 658.7,674.8 661.9,674.0 664.4,672.9 667.2,672.3 670.2,672.1 674.3,670.7 677.0,670.3 680.2,668.8 683.4,668.2 687.2,667.5 690.6,666.4 688.5,669.9 686.7,674.2 687.8,677.0 688.5,680.6 689.8,682.4 690.6,685.9 694.1,687.5 696.4,688.5 698.9,689.4 702.3,689.8 705.2,691.6 709.1,693.0 712.1,693.8"/>
<polyline points="259.4,607.8 261.8,609.7 265.4,610.4 268.5,612.3 271.1,613.7 274.9,615.3 278.2,616.9 281.2,617.6 284.8,619.5 287.7,617.1 289.7,616.2 291.9,613.4 294.5,611.7 294.9,607.5 295.5,603.9"/>
<polyline points="282.8,704.5 285.1,701.8 287.8,699.7 290.1,697.7 292.6,695.7 296.2,694.8 300.0,694.2 302.3,694.4 306.2,693.8 310.7,694.8 314.5,694.6 318.0,695.7 321.5,693.5 325.8,691.8"/>
</g>
<!-- contours.svg -->
<g fill="none" stroke="#0000ff" stroke-width="1.4" stroke-linejoin="round" stroke-linecap="round"><path d="M214.5 182.3C213.5 185.5 213.5 184.0 211.5 191.7C209.6 199.4 211.5 198.2 208.6 205.4C205.7 212.6 206.0 206.7 202.7 213.2C199.5 219.7 202.7 215.8 198.8 224.9C194.9 234.0 196.9 230.1 191.0 240.5C185.2 251.0 188.4 248.7 181.2 256.2C174.1 263.7 176.0 260.3 169.5 263.0C163.0 265.7 166.3 265.4 161.7 264.4C157.2 263.4 158.6 262.8 155.9 260.1C153.1 257.3 154.3 257.5 153.5 256.2"/>
<path d="M293.6 182.3C291.3 183.5 294.2 180.8 286.7 185.9C279.2 190.9 277.0 191.1 271.1 197.6C265.2 204.1 270.1 198.9 269.1 205.4C268.2 211.9 272.4 208.0 268.2 217.1C263.9 226.2 261.0 225.6 256.4 232.7C251.9 239.9 254.3 233.7 254.5 238.6C254.7 243.5 258.0 241.5 257.0 247.4C256.1 253.2 256.6 250.0 251.6 256.2C246.5 262.4 245.4 260.7 241.8 265.9C238.2 271.1 245.4 266.9 240.8 271.8C236.3 276.7 234.3 275.7 228.1 280.6C221.9 285.5 227.5 280.6 222.3 286.4C217.1 292.3 216.1 292.0 212.5 298.2C208.9 304.3 213.5 299.5 211.5 305.0C209.6 310.5 209.9 309.8 206.6 314.8C203.4 319.8 203.4 318.3 201.8 320.0"/>
<path d="M425.2 250.3C427.3 251.5 427.2 251.0 426.6 254.2C425.9 257.5 426.6 256.5 423.2 260.1C419.9 263.7 420.6 261.1 416.4 265.0C412.2 268.9 414.5 269.2 410.5 271.8C406.6 274.4 407.6 273.8 404.7 272.8C401.8 271.8 402.5 272.8 401.8 268.9C401.0 265.0 400.7 265.0 402.3 261.1C404.0 257.1 402.6 259.1 406.6 257.1C410.7 255.2 409.9 257.3 414.5 255.2C419.0 253.0 416.7 252.3 420.3 250.7C423.9 249.1 423.1 249.1 425.2 250.3Z"/>
<path d="M421.3 320.0C424.2 316.0 423.2 312.6 430.1 307.9C436.9 303.2 433.3 307.6 441.8 306.0C450.3 304.3 445.7 306.6 455.5 303.0C465.2 299.5 460.7 299.8 471.1 295.2C481.5 290.7 477.6 292.3 486.7 289.4C495.8 286.4 490.0 287.4 498.4 286.4C506.9 285.5 504.9 287.7 512.1 286.4C519.3 285.1 514.1 284.2 519.9 282.5C525.8 280.9 519.7 280.6 529.7 281.6C539.7 282.5 543.2 284.2 550.0 285.5"/>
<path d="M512.1 320.0C516.7 319.3 517.3 318.2 525.8 317.7C534.2 317.2 529.4 320.3 537.5 318.7C545.6 317.0 545.8 314.8 550.0 312.8"/>
<path d="M579.3 182.3C575.4 183.5 573.8 182.1 567.6 185.9C561.4 189.6 562.7 187.8 560.7 193.7C558.8 199.5 559.4 198.2 561.7 203.4C564.0 208.6 563.0 207.2 567.6 209.3C572.1 211.4 570.2 208.4 575.4 209.7C580.6 211.0 576.0 208.8 583.2 213.2C590.4 217.6 586.5 214.5 596.9 223.0C607.3 231.4 602.7 229.2 614.5 238.6C626.2 248.0 619.7 242.2 632.0 251.3C644.4 260.4 638.5 256.5 651.6 265.9C664.6 275.4 659.4 271.8 671.1 279.6C682.8 287.4 677.6 283.5 686.7 289.4C695.8 295.2 688.7 291.3 698.4 297.2C708.2 303.0 706.9 301.7 716.0 307.0C725.1 312.2 719.9 308.5 725.8 312.8C731.6 317.2 731.0 317.6 733.6 320.0"/>
<path d="M550.0 285.5C558.5 285.5 562.4 284.2 575.4 285.5C588.4 286.8 580.6 287.1 589.1 289.4C597.5 291.7 592.3 289.7 600.8 292.3C609.2 294.9 606.6 293.0 614.5 297.2C622.3 301.4 618.4 299.8 624.2 305.0C630.1 310.2 627.5 307.8 632.0 312.8C636.6 317.8 635.9 317.6 637.9 320.0"/>
<path d="M550.0 310.9C553.9 311.5 553.9 310.9 561.7 312.8C569.5 314.8 568.2 314.3 573.4 316.7C578.6 319.1 576.0 318.9 577.3 320.0"/>
<path d="M801.8 192.1C804.6 192.1 805.3 191.5 806.2 194.6C807.2 197.8 807.2 196.0 804.7 201.5C802.2 207.0 802.7 205.4 798.8 211.2C794.9 217.1 795.6 213.9 793.0 219.1C790.4 224.3 791.3 222.0 791.0 226.9C790.7 231.8 792.3 230.8 792.0 233.7C791.7 236.6 792.3 237.3 790.0 235.7C787.8 234.0 787.1 233.1 785.2 228.8C783.2 224.6 782.9 228.2 784.2 223.0C785.5 217.8 785.5 220.4 789.1 213.2C792.6 206.0 792.0 207.7 794.9 201.5C797.9 195.3 795.6 197.8 797.9 194.6C800.1 191.5 799.0 192.1 801.8 192.1Z"/>
<path d="M816.4 189.8C819.3 189.8 818.9 189.8 820.7 192.7C822.5 195.6 822.3 195.1 821.9 198.6C821.4 202.0 821.5 201.5 819.3 203.0C817.2 204.5 817.8 204.5 815.4 203.0C813.0 201.5 813.2 202.0 812.1 198.6C811.0 195.1 810.7 195.6 812.1 192.7C813.5 189.8 813.5 189.8 816.4 189.8Z"/>
<path d="M825.2 200.5C827.5 198.6 828.8 197.6 835.0 198.6C841.1 199.5 837.6 199.2 843.8 203.4C849.9 207.7 849.1 207.0 853.5 211.2C857.9 215.5 857.0 213.2 857.0 216.1C857.0 219.1 858.6 218.3 853.5 220.0C848.4 221.8 847.0 222.1 841.8 221.4C836.6 220.8 840.5 222.1 837.9 218.1C835.3 214.0 837.2 213.9 834.0 209.3C830.7 204.7 831.1 207.3 828.1 204.4C825.2 201.5 822.9 202.5 825.2 200.5Z"/>
<path d="M849.6 182.3C851.6 183.8 849.6 184.5 855.5 186.8C861.3 189.2 858.1 188.9 867.2 189.4C876.3 189.8 873.7 188.4 882.8 188.2C891.9 188.0 889.0 187.6 894.5 188.8C900.1 190.0 897.5 188.8 899.4 191.7C901.4 194.6 898.1 193.0 900.4 197.6C902.7 202.1 901.7 200.2 906.2 205.4C910.8 210.6 908.9 207.7 914.1 213.2C919.3 218.7 919.9 216.1 921.9 222.0C923.8 227.9 919.6 225.2 919.9 230.8C920.2 236.3 920.9 234.4 922.9 238.6C924.8 242.8 920.9 242.3 925.8 243.5C930.7 244.6 933.6 242.6 937.5 242.1"/>
<path d="M825.2 320.0C826.2 318.3 824.5 319.1 828.1 314.8C831.7 310.4 828.1 310.9 835.9 307.0C843.8 303.0 841.1 305.0 851.6 303.0C862.0 301.1 858.1 302.4 867.2 301.1C876.3 299.8 872.4 302.4 878.9 299.1C885.4 295.9 881.5 297.2 886.7 291.3C891.9 285.5 888.7 286.4 894.5 281.6C900.4 276.7 898.8 279.3 904.3 276.7C909.8 274.1 907.2 274.1 911.1 273.8C915.0 273.4 911.8 275.7 916.0 275.7C920.2 275.7 919.9 274.9 923.8 273.8C927.7 272.6 923.2 271.7 927.7 272.2C932.3 272.6 934.2 274.1 937.5 275.1"/>
<path d="M937.5 188.8C936.2 189.4 935.2 188.8 933.6 190.7C932.0 192.7 932.3 192.4 932.6 194.6C932.9 196.9 932.9 196.5 934.6 197.6C936.2 198.7 936.5 197.8 937.5 198.0"/>
<path d="M937.5 279.6C935.2 280.9 934.2 279.6 930.7 283.5C927.1 287.4 927.7 285.5 926.8 291.3C925.8 297.2 926.1 295.2 927.7 301.1C929.4 307.0 928.4 305.7 931.6 308.9C934.9 312.2 935.5 310.2 937.5 310.9"/>
<path d="M153.5 345.4C156.2 346.7 155.1 349.9 161.7 349.3C168.4 348.6 165.6 348.0 173.4 343.4C181.2 338.9 179.0 340.8 185.2 335.6C191.3 330.4 187.4 332.4 192.0 327.8C196.5 323.3 195.6 324.6 198.8 322.0C202.1 319.3 200.8 320.7 201.8 320.0"/>
<path d="M153.5 407.9C157.6 406.9 156.4 406.3 165.6 405.0C174.9 403.7 170.2 406.3 181.2 404.0C192.3 401.7 187.8 402.7 198.8 398.1C209.9 393.6 205.3 396.2 214.5 390.3C223.6 384.5 219.7 387.1 226.2 380.5C232.7 374.0 227.5 378.6 234.0 370.8C240.5 363.0 237.2 364.9 245.7 357.1C254.2 349.3 250.9 351.9 259.4 347.3C267.8 342.8 263.3 346.0 271.1 343.4C278.9 340.8 276.3 340.2 282.8 339.5C289.3 338.9 284.1 338.9 290.6 341.5C297.1 344.1 293.9 342.1 302.3 347.3C310.8 352.6 308.2 350.6 316.0 357.1C323.8 363.6 319.9 359.7 325.8 366.9C331.6 374.0 329.0 371.4 333.6 378.6C338.2 385.8 336.2 381.8 339.5 388.4C342.7 394.9 341.4 391.6 343.4 398.1C345.3 404.6 343.1 402.0 345.3 407.9C347.5 413.8 348.4 413.1 350.0 415.7"/>
<path d="M228.1 460.0C232.7 458.6 232.7 457.8 241.8 455.7C250.9 453.7 247.0 453.5 255.5 453.8C263.9 454.1 260.7 454.6 267.2 456.7C273.7 458.8 272.4 458.9 275.0 460.0"/>
<path d="M421.3 319.4C419.3 323.5 418.7 324.4 415.4 331.7C412.2 339.1 413.2 334.3 411.5 341.5C409.9 348.6 412.8 345.4 410.5 353.2C408.3 361.0 410.9 358.1 404.7 364.9C398.5 371.8 394.6 366.5 392.0 373.7C389.4 380.9 395.8 377.0 396.9 386.4C398.0 395.8 395.3 391.6 395.3 402.0C395.3 412.4 393.1 411.5 396.9 417.7C400.7 423.8 399.5 416.0 406.6 420.6C413.8 425.1 409.9 425.9 418.4 431.3C426.8 436.7 421.0 434.6 432.0 436.8C443.1 438.9 438.5 437.6 451.6 437.8C464.6 437.9 459.4 437.7 471.1 437.2C482.8 436.7 477.6 437.2 486.7 436.2C495.8 435.2 490.0 435.9 498.4 434.3C506.9 432.6 503.0 432.0 512.1 431.3C521.2 430.7 518.0 430.4 525.8 432.3C533.6 434.3 530.7 435.4 535.5 437.2C540.4 439.0 537.2 438.4 540.4 437.8C543.7 437.1 542.1 437.1 545.3 435.2C548.5 433.4 548.4 433.3 550.0 432.3"/>
<path d="M516.0 320.0C512.1 322.0 512.8 322.9 504.3 325.9C495.8 328.8 500.4 325.5 490.6 328.8C480.9 332.0 483.5 330.7 475.0 335.6C466.5 340.5 469.8 337.6 465.2 343.4C460.7 349.3 464.3 346.0 461.3 353.2C458.4 360.4 459.4 357.8 456.4 364.9C453.5 372.1 452.9 368.8 452.5 374.7C452.2 380.5 450.6 377.9 455.5 382.5C460.4 387.1 460.7 384.5 467.2 388.4C473.7 392.3 468.5 391.9 475.0 394.2C481.5 396.5 477.6 395.8 486.7 395.2C495.8 394.5 492.6 395.2 502.3 392.3C512.1 389.3 508.2 390.3 516.0 386.4C523.8 382.5 519.3 384.1 525.8 380.5C532.3 377.0 529.0 378.6 535.5 375.7C542.1 372.7 540.5 376.3 545.3 371.8C550.1 367.2 548.4 365.2 550.0 362.0"/>
<path d="M350.0 415.7C351.3 418.3 350.0 417.0 353.9 423.5C357.8 430.0 355.9 427.4 361.7 435.2C367.6 443.0 364.6 438.7 371.5 447.0C378.3 455.2 378.6 455.7 382.2 460.0"/>
<path d="M578.3 320.0C579.6 322.6 581.2 322.0 582.2 327.8C583.2 333.7 584.2 331.7 581.2 337.6C578.3 343.4 579.9 340.2 573.4 345.4C566.9 350.6 568.2 349.0 561.7 353.2C555.2 357.4 557.8 355.2 553.9 358.1C550.0 361.0 551.3 360.7 550.0 362.0"/>
<path d="M637.9 320.0C640.5 322.6 642.8 323.3 645.7 327.8C648.6 332.4 648.0 328.5 646.7 333.7C645.4 338.9 646.0 337.6 641.8 343.4C637.6 349.3 639.8 346.0 634.0 351.2C628.1 356.5 630.7 353.9 624.2 359.1C617.7 364.3 621.6 361.0 614.5 366.9C607.3 372.7 609.9 370.1 602.7 376.6C595.6 383.2 598.8 379.2 593.0 386.4C587.1 393.6 589.7 390.3 585.2 398.1C580.6 405.9 584.5 402.7 579.3 409.8C574.1 417.0 576.7 414.4 569.5 419.6C562.4 424.8 564.3 421.6 557.8 425.5C551.3 429.4 552.6 429.4 550.0 431.3"/>
<path d="M645.7 349.3C646.0 346.8 645.1 344.5 646.7 341.9C648.3 339.3 648.3 339.7 650.6 341.5C652.9 343.3 652.2 343.4 653.5 347.3C654.8 351.2 655.5 348.6 654.5 353.2C653.5 357.8 654.2 358.1 650.6 361.0C647.0 363.9 647.3 363.0 643.8 362.0C640.2 361.0 641.1 359.4 639.8 358.1"/>
<path d="M575.4 460.0C578.0 458.3 576.7 457.8 583.2 454.8C589.7 451.7 587.1 451.5 594.9 450.9C602.7 450.2 598.8 450.9 606.6 452.8C614.5 454.8 611.2 454.6 618.4 456.7C625.5 458.8 622.3 458.0 628.1 459.1C634.0 460.2 633.3 459.7 635.9 460.0"/>
<path d="M655.5 460.0C658.1 457.0 658.1 456.5 663.3 450.9C668.5 445.2 664.6 446.0 671.1 443.0C677.6 440.1 676.3 443.4 682.8 442.1C689.3 440.8 685.4 442.7 690.6 439.1C695.8 435.6 691.9 435.6 698.4 431.3C704.9 427.1 703.0 427.7 710.2 426.4C717.3 425.1 713.4 426.4 719.9 427.4C726.4 428.4 724.5 430.7 729.7 429.4C734.9 428.1 731.0 427.1 735.5 423.5C740.1 419.9 738.5 420.6 743.4 418.6C748.2 416.7 747.8 418.0 750.0 417.7"/>
<path d="M737.5 320.0C738.8 322.6 738.8 323.3 741.4 327.8C744.0 332.4 742.4 330.5 745.3 333.7C748.2 336.8 748.4 336.0 750.0 337.2"/>
<path d="M825.2 320.0C822.9 321.3 823.2 320.7 818.4 323.9C813.5 327.2 812.5 326.2 810.5 329.8C808.6 333.3 809.9 332.4 812.5 334.6C815.1 336.9 815.1 334.3 818.4 336.6C821.6 338.9 821.6 337.3 822.3 341.5C822.9 345.7 818.4 345.1 820.3 349.3C822.3 353.5 821.0 352.9 828.1 354.2C835.3 355.5 833.3 352.6 841.8 353.2C850.3 353.9 847.7 352.2 853.5 356.1C859.4 360.0 858.4 358.7 859.4 364.9C860.4 371.1 858.1 369.5 856.4 374.7C854.8 379.9 853.5 377.9 854.5 380.5C855.5 383.2 853.8 383.2 859.4 382.5C864.9 381.8 863.3 382.5 871.1 378.6C878.9 374.7 877.6 375.3 882.8 370.8C888.0 366.2 886.7 368.8 886.7 364.9C886.7 361.0 883.5 363.3 882.8 359.1C882.2 354.8 884.1 354.5 884.8 352.2"/>
<path d="M750.0 337.2C752.6 338.6 752.6 338.8 757.8 341.5C763.0 344.2 761.1 344.3 765.6 345.4C770.2 346.4 767.7 344.0 771.5 344.6C775.3 345.3 775.3 345.1 777.0 347.3C778.6 349.6 778.8 349.6 776.4 351.2C773.9 352.9 773.1 352.9 769.5 352.2C766.0 351.6 766.9 350.3 765.6 349.3"/>
<path d="M753.9 352.2C756.5 354.5 756.5 354.2 761.7 359.1C766.9 363.9 765.6 361.0 769.5 366.9C773.4 372.7 772.8 370.1 773.4 376.6C774.1 383.2 769.5 381.2 771.5 386.4C773.4 391.6 773.4 389.0 779.3 392.3C785.2 395.5 784.8 393.6 789.1 396.2C793.3 398.8 792.6 397.5 792.0 400.1C791.3 402.7 792.0 404.0 787.1 404.0C782.2 404.0 782.2 400.7 777.3 400.1C772.5 399.4 773.8 398.1 772.5 402.0C771.2 405.9 771.8 405.9 773.4 411.8C775.1 417.7 778.0 416.0 777.3 419.6C776.7 423.2 777.3 423.2 771.5 422.5C765.6 421.9 766.9 419.9 759.8 417.7C752.6 415.4 753.3 416.4 750.0 415.7"/>
<path d="M808.6 373.7C810.2 371.1 809.9 371.4 814.5 369.8C819.0 368.2 817.7 367.9 822.3 368.8C826.8 369.8 826.2 369.8 828.1 372.7C830.1 375.7 830.1 375.0 828.1 377.6C826.2 380.2 826.8 379.7 822.3 380.5C817.7 381.4 818.7 381.1 814.5 380.2C810.2 379.2 811.5 379.8 809.6 377.6C807.6 375.5 807.0 376.3 808.6 373.7Z"/>
<path d="M804.7 415.7C809.8 415.7 807.3 418.0 816.4 421.6C825.5 425.1 821.6 425.1 832.0 426.4C842.4 427.7 839.5 425.5 847.7 425.5C855.8 425.5 852.7 424.5 856.4 426.4C860.2 428.4 860.0 428.4 859.0 431.3C858.0 434.3 860.5 434.6 853.5 435.2C846.5 435.9 847.7 432.6 837.9 433.3C828.1 433.9 834.0 436.5 824.2 437.2C814.5 437.8 816.1 437.8 808.6 435.2C801.1 432.6 804.2 433.9 801.8 429.4C799.3 424.8 800.2 426.1 801.2 421.6C802.1 417.0 799.6 415.7 804.7 415.7Z"/>
<path d="M796.9 460.0C795.9 457.6 793.3 457.2 793.9 452.8C794.6 448.5 793.3 450.2 798.8 447.0C804.4 443.7 802.1 443.7 810.5 443.0C819.0 442.4 815.1 443.7 824.2 445.0C833.3 446.3 828.8 446.0 837.9 447.0C847.0 447.9 845.7 446.0 851.6 447.9C857.4 449.9 855.5 448.8 855.5 452.8C855.5 456.8 852.9 457.6 851.6 460.0"/>
<path d="M871.1 424.5C872.4 421.9 873.0 422.5 878.9 421.2C884.8 419.9 883.5 419.8 888.7 420.6C893.9 421.4 892.9 421.2 894.5 423.5C896.2 425.8 896.8 425.5 893.6 427.4C890.3 429.4 891.0 428.9 884.8 429.4C878.6 429.9 879.6 430.6 875.0 429.0C870.4 427.4 869.8 427.1 871.1 424.5Z"/>
<path d="M937.5 397.1C933.6 396.5 934.9 395.2 925.8 395.2C916.7 395.2 920.6 397.1 910.2 397.1C899.7 397.1 904.9 396.2 894.5 395.2C884.1 394.2 886.1 393.2 878.9 394.2C871.7 395.2 874.3 395.2 873.0 398.1C871.7 401.1 870.4 401.1 875.0 403.0C879.6 405.0 878.9 403.0 886.7 404.0C894.5 405.0 892.6 403.3 898.4 405.9C904.3 408.5 902.3 409.8 904.3 411.8"/>
<path d="M873.0 460.0C874.3 457.0 872.4 456.5 877.0 450.9C881.5 445.2 879.6 447.0 886.7 443.0C893.9 439.1 891.3 442.4 898.4 439.1C905.6 435.9 904.3 437.5 908.2 433.3C912.1 429.0 909.5 428.7 910.2 426.4"/>
<path d="M937.5 322.9C935.5 325.2 936.8 326.8 931.6 329.8C926.4 332.7 928.4 329.8 921.9 331.7C915.4 333.7 916.0 333.0 912.1 335.6C908.2 338.2 908.9 337.3 910.2 339.5C911.5 341.8 910.8 341.2 916.0 342.5C921.2 343.8 921.2 342.1 925.8 343.4C930.3 344.7 931.0 343.8 929.7 346.4C928.4 349.0 927.7 350.3 921.9 351.2C916.0 352.2 918.0 350.9 912.1 349.3C906.2 347.7 908.9 346.4 904.3 346.4C899.7 346.4 899.7 346.4 898.4 349.3C897.1 352.2 897.8 351.9 900.4 355.2C903.0 358.4 904.3 357.8 906.2 359.1"/>
<path d="M153.5 462.0C158.9 462.9 157.7 463.3 169.5 464.9C181.4 466.5 176.0 466.8 189.1 466.8C202.1 466.8 195.6 466.8 208.6 464.9C221.6 462.9 220.3 462.6 228.1 461.0C235.9 459.3 230.7 460.3 232.0 460.0"/>
<path d="M275.0 460.0C280.2 461.3 281.5 459.3 290.6 463.9C299.7 468.5 294.5 467.8 302.3 473.7C310.2 479.5 306.2 475.0 314.1 481.5C321.9 488.0 318.0 486.0 325.8 493.2C333.6 500.4 329.4 497.4 337.5 503.0C345.6 508.5 345.8 507.5 350.0 509.8"/>
<path d="M153.5 536.2C155.6 539.4 155.7 537.5 159.8 545.9C163.8 554.4 161.7 551.1 165.6 561.6C169.5 572.0 168.6 568.7 171.5 577.2C174.4 585.7 174.4 581.7 174.4 587.0C174.4 592.2 174.4 591.5 171.5 592.8C168.6 594.1 170.2 594.8 165.6 590.9C161.1 587.0 161.8 586.3 157.8 581.1C153.8 575.9 154.9 577.2 153.5 575.2"/>
<path d="M153.5 592.8C154.9 594.8 155.7 596.3 157.8 598.7C159.9 601.1 159.1 599.6 159.8 600.0"/>
<path d="M224.4 600.6C222.2 598.5 222.4 597.5 217.8 594.4C213.2 591.2 212.3 594.0 210.5 591.2C208.8 588.5 208.7 589.0 212.5 586.2C216.3 583.3 215.4 584.0 221.9 582.7C228.4 581.3 224.7 581.6 232.0 582.1C239.3 582.5 235.9 581.7 243.8 584.0C251.6 586.3 247.7 586.6 255.5 588.9C263.3 591.2 259.4 588.9 267.2 590.9C275.0 592.8 272.4 591.7 278.9 594.8C285.4 597.8 284.1 598.3 286.7 600.0"/>
<path d="M384.2 460.0C387.8 462.0 386.8 461.3 394.9 465.9C403.1 470.4 397.5 469.8 408.6 473.7C419.7 477.6 415.1 475.6 428.1 477.6C441.1 479.5 434.6 478.9 447.7 479.5C460.7 480.2 454.2 479.2 467.2 479.5C480.2 479.9 477.6 481.2 486.7 480.5C495.8 479.9 489.3 480.2 494.5 477.6C499.7 475.0 495.2 475.0 502.3 472.7C509.5 470.4 506.9 471.7 516.0 470.7C525.1 469.8 518.4 469.1 529.7 469.8C541.0 470.4 543.2 471.7 550.0 472.7"/>
<path d="M350.0 509.8C353.9 513.4 353.9 514.7 361.7 520.5C369.5 526.4 366.6 524.5 373.4 527.4C380.3 530.3 373.8 528.4 382.2 529.3C390.7 530.3 387.4 529.3 398.8 530.3C410.2 531.3 405.3 530.6 416.4 532.3C427.5 533.9 421.6 533.2 432.0 535.2C442.4 537.1 435.9 536.4 447.7 538.1C459.4 539.9 454.2 540.8 467.2 540.5C480.2 540.1 473.7 538.9 486.7 537.1C499.7 535.4 493.2 536.5 506.2 535.2C519.3 533.9 514.7 533.6 525.8 533.2C536.8 532.9 531.4 531.0 539.5 534.2C547.5 537.5 546.5 540.1 550.0 543.0"/>
<path d="M550.0 470.7C553.9 469.8 554.6 470.7 561.7 467.8C568.9 464.9 567.3 464.6 571.5 462.0C575.7 459.3 573.4 460.7 574.4 460.0"/>
<path d="M629.1 460.0C631.4 460.3 629.8 459.7 635.9 461.0C642.1 462.3 641.8 463.3 647.7 463.9C653.5 464.6 650.9 464.2 653.5 462.9C656.1 461.6 654.8 461.0 655.5 460.0"/>
<path d="M563.7 535.2C566.9 531.6 566.9 531.9 575.4 528.4C583.9 524.8 579.3 525.8 589.1 524.5C598.8 523.2 597.9 523.5 604.7 524.5C611.5 525.4 609.6 523.5 609.6 527.4C609.6 531.3 610.2 531.3 604.7 536.2C599.2 541.1 600.8 538.5 593.0 542.0C585.2 545.6 587.8 546.9 581.2 546.9C574.7 546.9 578.6 544.6 573.4 542.0C568.2 539.4 568.9 541.4 565.6 539.1C562.4 536.8 560.4 538.8 563.7 535.2Z"/>
<path d="M550.0 542.0C553.3 545.3 552.6 545.3 559.8 551.8C566.9 558.3 563.7 556.7 571.5 561.6C579.3 566.4 576.0 563.8 583.2 566.4C590.4 569.0 588.1 565.8 593.0 569.4C597.9 573.0 594.9 570.7 597.9 577.2C600.8 583.7 600.1 581.3 601.8 588.9C603.4 596.5 602.4 596.3 602.7 600.0"/>
<path d="M750.0 497.1C747.8 495.7 748.2 492.8 743.4 492.8C738.5 492.8 739.1 493.1 735.5 497.1C732.0 501.1 732.6 500.2 732.6 504.9C732.6 509.6 731.3 509.9 735.5 511.2C739.8 512.5 740.5 510.6 745.3 508.8C750.1 507.1 748.4 506.9 750.0 505.9"/>
<path d="M712.1 568.4C715.7 566.4 714.1 568.7 719.9 569.4C725.8 570.0 725.5 569.0 729.7 570.4C733.9 571.7 733.9 570.4 732.6 573.3C731.3 576.2 730.7 575.6 725.8 579.1C720.9 582.7 722.9 583.7 718.0 584.0C713.1 584.3 714.1 583.0 711.1 580.1C708.2 577.2 708.9 579.1 709.2 575.2C709.5 571.3 708.5 570.4 712.1 568.4Z"/>
<path d="M739.5 588.9C740.8 586.3 739.8 585.0 743.4 581.1C746.9 577.2 747.8 578.5 750.0 577.2"/>
<path d="M797.9 460.0C800.8 462.0 799.8 462.0 806.6 465.9C813.5 469.8 811.2 468.8 818.4 471.7C825.5 474.6 824.9 473.7 828.1 474.6"/>
<path d="M834.0 460.0C832.4 461.3 831.1 460.0 829.1 463.9C827.1 467.8 828.1 465.9 828.1 471.7C828.1 477.6 826.5 476.9 829.1 481.5C831.7 486.0 829.8 483.1 835.9 485.4C842.1 487.7 839.8 488.3 847.7 488.3C855.5 488.3 852.2 488.6 859.4 485.4C866.5 482.1 863.3 484.4 869.1 478.6C875.0 472.7 874.0 473.3 877.0 467.8C879.9 462.3 878.6 464.6 877.9 462.0C877.3 459.3 876.0 460.7 875.0 460.0"/>
<path d="M835.9 489.3C834.0 491.9 831.4 491.9 830.1 497.1C828.8 502.3 828.8 500.7 832.0 504.9C835.3 509.2 834.6 508.2 839.8 509.8C845.1 511.4 842.4 511.1 847.7 509.8C852.9 508.5 849.0 507.5 855.5 505.9C862.0 504.3 858.1 504.9 867.2 504.9C876.3 504.9 872.4 506.9 882.8 505.9C893.2 504.9 886.7 503.9 898.4 502.0C910.2 500.0 904.9 499.4 918.0 500.0C931.0 500.7 931.0 502.6 937.5 503.9"/>
<path d="M937.5 521.5C933.6 521.2 932.9 521.5 925.8 520.5C918.6 519.6 923.2 519.6 916.0 518.6C908.9 517.6 910.8 517.3 904.3 517.6C897.8 517.9 900.1 517.3 896.5 519.6C892.9 521.8 893.6 521.5 893.6 524.5C893.6 527.4 892.3 526.7 896.5 528.4C900.7 530.0 901.0 527.4 906.2 529.3C911.5 531.3 910.2 530.6 912.1 534.2C914.1 537.8 914.7 536.8 912.1 540.1C909.5 543.3 908.9 540.7 904.3 544.0C899.7 547.2 904.3 546.6 898.4 549.8C892.6 553.1 894.5 551.8 886.7 553.8C878.9 555.7 882.8 554.4 875.0 555.7C867.2 557.0 871.1 555.1 863.3 557.7C855.5 560.3 859.4 559.6 851.6 563.5C843.8 567.4 847.7 565.8 839.8 569.4C832.0 573.0 835.9 571.3 828.1 574.3C820.3 577.2 822.9 575.9 816.4 578.2C809.9 580.4 813.8 577.5 808.6 581.1C803.4 584.7 807.3 584.3 800.8 588.9C794.3 593.5 796.2 591.5 789.1 594.8C781.9 598.0 784.5 596.9 779.3 598.7C774.1 600.4 775.4 599.6 773.4 600.0"/>
<path d="M827.1 527.4C832.4 525.6 832.4 524.7 841.8 525.0C851.2 525.4 849.9 525.3 855.5 528.4C861.0 531.4 861.0 530.8 858.4 534.2C855.8 537.7 855.8 538.4 847.7 538.7C839.5 539.0 841.1 538.0 834.0 535.2C826.8 532.4 828.5 532.9 826.2 530.3C823.9 527.7 821.9 529.1 827.1 527.4Z"/>
<path d="M755.9 484.4C757.4 482.9 758.1 482.9 759.8 483.8C761.4 484.8 761.4 485.4 760.7 487.3C760.1 489.3 759.6 489.4 757.8 489.7C756.0 490.0 755.9 490.1 755.3 488.3C754.6 486.6 754.4 485.9 755.9 484.4Z"/>
<path d="M750.0 498.1C751.0 499.4 752.9 499.1 752.9 502.0C752.9 504.9 751.0 505.2 750.0 506.9"/>
<path d="M750.0 577.2C753.9 575.9 753.3 575.9 761.7 573.3C770.2 570.7 769.2 569.7 775.4 569.4C781.6 569.0 780.3 569.0 780.3 572.3C780.3 575.6 781.6 574.6 775.4 579.1C769.2 583.7 770.2 582.4 761.7 586.0C753.3 589.6 753.9 588.6 750.0 589.9"/>
<path d="M159.8 600.0C161.7 602.6 161.1 603.3 165.6 607.8C170.2 612.4 167.6 611.1 173.4 613.7C179.3 616.3 176.0 615.6 183.2 615.6C190.4 615.6 187.1 613.8 194.9 613.7C202.7 613.5 199.5 614.6 206.6 615.2C213.8 615.9 210.9 616.5 216.4 615.6C221.9 614.8 220.2 615.3 223.2 612.7C226.2 610.1 224.8 611.1 225.4 607.8C226.0 604.6 225.3 605.7 225.0 602.9C224.7 600.1 224.6 600.6 224.4 599.4"/>
<path d="M153.5 638.1C154.9 641.0 155.7 640.0 157.8 646.9C159.9 653.7 159.8 650.1 159.8 658.6C159.8 667.1 157.8 663.8 157.8 672.3C157.8 680.7 157.2 676.8 159.8 684.0C162.4 691.1 160.4 688.9 165.6 693.8C170.8 698.6 169.5 696.0 175.4 698.6C181.2 701.2 179.3 699.6 183.2 701.6C187.1 703.5 185.8 703.5 187.1 704.5"/>
<path d="M193.0 704.5C195.6 704.0 194.9 703.1 200.8 703.1C206.6 703.1 207.3 704.0 210.5 704.5"/>
<path d="M286.7 600.0C289.3 601.3 288.0 601.3 294.5 603.9C301.0 606.5 298.4 606.2 306.2 607.8C314.1 609.4 311.5 609.4 318.0 608.8C324.5 608.1 320.6 605.9 325.8 605.9C331.0 605.9 328.4 608.1 333.6 608.8C338.8 609.4 335.9 609.8 341.4 607.8C346.9 605.9 347.1 604.6 350.0 602.9"/>
<path d="M331.6 690.8C332.9 689.5 332.9 689.5 337.5 693.8C342.1 698.0 343.4 699.6 345.3 703.5C347.3 707.4 345.6 704.8 343.4 705.5C341.1 706.1 341.7 708.1 338.5 705.5C335.2 702.9 335.9 702.5 333.6 697.7C331.3 692.8 330.3 692.1 331.6 690.8Z"/>
<path d="M350.0 603.9C353.3 605.9 352.6 604.6 359.8 609.8C366.9 615.0 364.3 612.4 371.5 619.5C378.6 626.7 374.1 623.4 381.2 631.2C388.4 639.1 385.8 636.1 393.0 643.0C400.1 649.8 396.9 645.9 402.7 651.8C408.6 657.6 404.7 656.0 410.5 660.5C416.4 665.1 413.2 663.5 420.3 665.4C427.5 667.4 422.9 666.6 432.0 666.4C441.1 666.2 438.5 665.5 447.7 664.8C456.8 664.2 451.6 663.6 459.4 664.5C467.2 665.3 464.6 664.1 471.1 667.4C477.6 670.6 473.7 670.3 478.9 674.2C484.1 678.1 482.5 675.2 486.7 679.1C491.0 683.0 489.0 680.4 491.6 685.9C494.2 691.5 491.0 689.5 494.5 695.7C498.1 701.9 499.7 701.6 502.3 704.5"/>
<path d="M602.7 600.0C600.8 603.9 598.8 603.3 596.9 611.7C594.9 620.2 597.2 616.9 596.9 625.4C596.5 633.9 595.2 629.3 595.9 637.1C596.5 644.9 598.2 643.0 598.8 648.8C599.5 654.7 601.1 651.4 597.9 654.7C594.6 657.9 596.5 656.3 589.1 658.6C581.6 660.9 584.5 659.9 575.4 661.5C566.3 663.2 567.6 661.2 561.7 663.5C555.9 665.8 560.4 664.5 557.8 668.4C555.2 672.3 555.9 671.3 553.9 675.2C552.0 679.1 550.7 677.1 552.0 680.1C553.3 683.0 553.3 683.3 557.8 684.0C562.4 684.6 561.1 683.3 565.6 682.0C570.2 680.7 568.2 679.4 571.5 680.1C574.7 680.7 571.5 682.0 575.4 684.0C579.3 685.9 578.6 685.9 583.2 685.9C587.8 685.9 586.5 684.0 589.1 684.0C591.7 684.0 591.7 684.0 591.0 685.9C590.4 687.9 591.7 687.9 587.1 689.8C582.6 691.8 583.2 689.8 577.3 691.8C571.5 693.8 574.1 694.1 569.5 695.7C565.0 697.3 566.3 695.1 563.7 696.7C561.1 698.3 560.4 698.6 561.7 700.6C563.0 702.5 561.7 701.6 567.6 702.5C573.4 703.5 572.1 703.8 579.3 703.5C586.5 703.2 581.9 703.2 589.1 701.6C596.2 699.9 593.0 699.9 600.8 698.6C608.6 697.3 605.3 697.3 612.5 697.7C619.7 698.0 618.0 697.3 622.3 699.6C626.5 701.9 624.2 702.9 625.2 704.5"/>
<path d="M600.8 678.7C603.9 678.4 603.6 679.0 605.3 681.1C606.9 683.1 606.8 682.9 605.7 685.0C604.5 687.0 604.7 687.0 601.8 687.3C598.8 687.6 598.8 687.7 596.9 685.9C594.9 684.2 594.6 684.4 595.9 682.0C597.2 679.6 597.7 679.0 600.8 678.7Z"/>
<path d="M639.8 704.5C640.0 702.9 638.3 702.5 640.2 699.6C642.2 696.7 641.3 698.3 645.7 695.7C650.1 693.1 649.9 695.1 653.5 691.8C657.1 688.5 653.2 689.2 656.4 685.9C659.7 682.7 659.7 685.6 663.3 682.0C666.9 678.5 662.6 679.1 667.2 675.2C671.7 671.3 670.4 672.9 677.0 670.3C683.5 667.7 680.2 669.0 686.7 667.4C693.2 665.8 690.6 667.1 696.5 665.4C702.3 663.8 700.4 664.8 704.3 662.5C708.2 660.2 706.6 661.8 708.2 658.6C709.8 655.3 707.2 656.0 709.2 652.7C711.1 649.5 709.8 651.4 714.1 648.8C718.3 646.2 718.0 648.2 721.9 644.9C725.8 641.7 721.9 643.0 725.8 639.1C729.7 635.2 728.4 637.1 733.6 633.2C738.8 629.3 736.8 631.9 741.4 627.3C746.0 622.8 744.4 623.4 747.3 619.5C750.1 615.6 749.1 616.9 750.0 615.6"/>
<path d="M660.4 704.5C661.3 703.2 659.7 702.5 663.3 700.6C666.9 698.6 665.9 699.6 671.1 698.6C676.3 697.7 675.0 699.9 678.9 697.7C682.8 695.4 679.6 696.4 682.8 691.8C686.1 687.2 684.1 687.9 688.7 684.0C693.2 680.1 690.6 682.0 696.5 680.1C702.3 678.1 700.4 677.8 706.2 678.1C712.1 678.5 709.5 677.8 714.1 681.1C718.6 684.3 717.0 682.4 719.9 687.9C722.9 693.4 721.5 692.1 722.9 697.7C724.2 703.2 723.5 702.2 723.8 704.5"/>
<path d="M750.0 641.0C747.1 643.0 747.5 641.7 741.4 646.9C735.3 652.1 736.5 650.1 731.6 656.6C726.8 663.2 727.4 660.5 726.8 666.4C726.1 672.3 726.1 669.0 729.7 674.2C733.3 679.4 732.3 677.5 737.5 682.0C742.7 686.6 741.1 685.3 745.3 687.9C749.5 690.5 748.4 689.2 750.0 689.8"/>
<path d="M727.7 704.5C728.4 701.9 727.1 700.6 729.7 696.7C732.3 692.8 731.0 693.8 735.5 692.8C740.1 691.8 739.1 691.5 743.4 693.8C747.6 696.0 746.3 696.0 748.2 699.6C750.2 703.2 748.9 702.9 749.2 704.5"/>
<path d="M675.0 704.5C676.3 703.5 675.7 702.5 678.9 701.6C682.2 700.6 682.2 700.6 684.8 701.6C687.4 702.5 686.1 703.5 686.7 704.5"/>
<path d="M750.0 642.0C752.0 640.0 750.0 639.4 755.9 636.1C761.7 632.9 759.8 634.2 767.6 632.2C775.4 630.3 774.0 629.3 779.3 630.3C784.6 631.2 783.6 630.9 783.6 635.2C783.6 639.4 784.0 638.1 779.3 643.0C774.6 647.9 773.1 644.6 769.5 649.8C766.0 655.0 767.9 651.1 768.6 658.6C769.2 666.1 769.7 663.2 771.5 672.3C773.2 681.4 773.3 678.5 773.8 685.9C774.3 693.4 775.8 690.8 773.0 694.7C770.3 698.6 770.7 697.3 765.6 697.7C760.5 698.0 763.0 698.0 757.8 695.7C752.6 693.4 752.6 692.4 750.0 690.8"/>
<path d="M937.5 668.4C933.6 671.3 934.9 671.9 925.8 677.1C916.7 682.4 919.3 679.8 910.2 684.0C901.0 688.2 904.0 685.6 898.4 689.8C892.9 694.1 894.9 691.8 893.6 696.7C892.3 701.6 894.2 701.9 894.5 704.5"/>
<path d="M937.5 688.9C934.9 688.9 934.9 690.2 929.7 693.8C924.5 697.3 923.8 697.0 921.9 699.6C919.9 702.2 920.6 702.5 923.8 701.6C927.1 700.6 927.1 699.3 931.6 696.7C936.2 694.1 935.5 696.4 937.5 693.8C939.5 691.1 940.1 688.9 937.5 688.9Z"/>
<path d="M750.0 609.8C753.9 608.5 753.9 609.1 761.7 605.9C769.5 602.6 769.5 602.0 773.4 600.0"/>
<path d="M750.0 617.6C755.2 616.3 757.2 616.9 765.6 613.7C774.1 610.4 769.5 612.4 775.4 607.8C781.2 603.3 780.6 602.6 783.2 600.0"/></g>
<!-- borders.svg -->
<g fill="none" stroke="#000" stroke-width="2.1" stroke-linejoin="round" stroke-linecap="round"><polyline points="192.0,393.2 195.7,394.5 198.6,395.0 202.0,396.1 205.6,397.0 208.6,398.1 211.7,399.8 215.3,401.3 217.8,403.1 221.2,404.1 224.2,405.9 228.0,408.4 231.1,409.8 235.9,407.9 241.8,406.9 245.4,406.0 248.1,404.5 251.6,403.0 254.9,402.0 257.4,400.2 260.3,399.5 263.3,398.1 267.6,398.9 271.1,399.1 275.0,399.1 276.7,402.3 278.9,405.0 282.9,405.9 286.7,407.9 290.6,404.0 292.1,401.0 293.6,398.3 294.5,395.2 297.3,394.9 301.4,394.3 304.3,394.2 308.0,393.6 312.1,392.3 313.8,388.4 316.0,384.5 318.7,383.0 321.9,380.5 325.6,378.5 328.7,376.6 329.7,370.8 328.8,366.7 328.7,363.0 331.2,360.5 333.6,357.1 334.2,353.3 335.5,349.3"/>
<polyline points="312.1,392.3 314.2,394.6 317.0,396.2 316.8,399.8 316.0,404.0 319.3,404.6 322.7,405.6 325.8,405.9 326.4,409.4 327.7,413.8 327.7,416.9 327.3,419.8 326.8,423.5 327.4,427.0 327.8,430.5 328.7,433.3 329.4,436.7 328.9,441.1 329.7,445.0 328.7,448.8 326.8,452.8 327.5,456.3 328.7,460.0"/>
<polyline points="455.5,352.2 458.9,354.6 461.3,356.1 463.3,358.6 466.2,362.0 467.2,365.8 467.7,369.0 468.2,372.7 469.5,375.8 470.7,378.3 471.8,381.4 473.0,384.5 474.0,390.3 470.8,392.8 467.2,394.2 465.7,397.2 463.3,400.1 464.7,402.8 466.2,405.9 463.3,409.8 465.7,412.3 469.1,415.7 472.0,416.5 475.0,417.7 475.9,421.0 477.0,423.5 480.2,425.5 483.2,426.9 486.7,429.4 488.5,432.9 490.6,437.2 492.6,441.6 494.5,445.0 492.1,446.6 489.7,449.2 486.7,450.9 484.5,453.2 482.1,455.1 479.2,457.2 477.0,458.7 475.0,460.0"/>
<polyline points="490.6,437.2 493.3,434.3 496.5,431.3 498.8,428.5 501.4,425.5 503.9,421.6 506.2,418.6 509.7,419.0 513.8,418.4 518.0,418.6 522.4,417.1 525.8,415.7 529.0,414.2 531.8,412.4 534.7,411.7 537.5,409.8 540.1,407.5 542.9,404.2 545.3,402.0 547.9,400.2 550.0,398.1"/>
<polyline points="531.6,320.0 530.7,325.9 533.3,326.1 536.4,326.8 539.5,327.8 542.5,328.4 546.9,329.4 550.0,329.8"/>
<polyline points="529.7,330.7 527.9,333.3 526.1,335.7 523.8,337.6 522.1,340.9 519.9,343.4 520.9,347.3 522.9,351.2 522.8,355.3 521.9,359.1 524.2,361.0 525.8,363.4 527.7,365.9 531.7,367.9 535.5,369.8 538.3,370.8 541.8,372.8 545.3,373.7 550.0,376.6"/>
<polyline points="435.0,460.0 436.7,457.3 437.9,453.7 438.9,451.1 440.8,447.9 444.4,447.5 447.9,446.9 451.6,446.0 453.0,449.0 455.2,451.3 456.7,454.2 458.4,456.7 460.4,460.0"/>
<polyline points="531.6,264.0 532.1,266.9 533.1,270.1 533.6,273.8 532.2,277.5 530.7,281.6 532.2,285.5 534.6,289.4 533.8,292.6 533.5,295.5 533.6,299.1 535.0,302.4 536.5,305.0 533.2,306.7 530.7,308.9 531.1,313.1 531.4,316.2 531.6,320.0"/>
<polyline points="647.7,293.3 649.3,296.7 651.6,299.1 652.2,303.3 653.5,307.0 656.0,307.7 659.4,308.9 659.4,312.5 658.4,316.7 661.3,320.0"/>
<polyline points="569.5,320.0 571.4,317.3 573.4,314.8 572.8,311.9 572.3,308.3 572.5,305.0 572.4,300.7 571.5,297.2 574.1,295.4 576.2,293.2 579.3,291.3 582.8,290.6 586.0,289.7 589.1,289.4 591.2,291.4 593.9,294.3 597.5,295.0 601.2,295.2 604.7,295.2 607.5,296.9 610.1,298.0 613.7,299.9 616.4,301.1 618.9,302.6 621.4,304.7 624.2,307.0 627.3,307.3 630.4,307.3 634.0,307.0 638.3,305.5 641.8,305.0 643.6,307.9 645.7,310.9 649.1,312.7 653.5,314.8 658.4,316.7"/>
<polyline points="550.0,326.8 553.9,329.8 557.9,328.7 561.7,327.8 563.7,324.6 565.6,322.0 569.5,320.0"/>
<polyline points="661.3,320.0 661.6,324.0 662.4,327.8 662.3,331.7 660.8,335.7 659.4,339.5 663.0,341.0 667.2,342.5 664.9,346.2 662.3,349.3 663.3,355.2 663.5,358.2 664.2,362.0 665.2,364.9 668.7,365.1 672.2,366.7 675.0,366.9 678.4,369.3 681.2,370.9 684.8,373.7 685.7,379.6 682.8,380.5 686.1,378.8 689.0,377.7 692.6,376.6 695.5,375.6 699.4,375.0 702.9,373.9 706.2,372.7 709.2,370.9 712.1,368.8 713.0,365.2 714.1,362.0 718.5,362.5 721.9,362.0 725.1,364.6 727.7,366.9 728.7,371.8 726.2,373.8 723.9,375.9 721.9,378.6 722.1,382.4 721.9,386.4 719.6,388.9 717.1,392.0 714.1,394.2 715.5,396.9 718.0,400.1 720.8,403.0 722.9,405.9 721.9,411.8 725.8,412.7 728.7,413.8 727.3,417.8 726.8,421.6 728.7,423.9 729.6,426.6 731.6,429.4 730.2,433.5 727.7,437.2 727.7,440.2 728.0,443.3 728.7,447.0 727.5,449.6 725.8,452.8 728.8,453.7 731.3,455.0 734.2,455.9 737.5,456.7 740.4,460.0"/>
<polyline points="728.7,371.8 733.1,372.4 737.5,372.7 741.6,371.4 745.3,370.8 747.2,367.2 750.0,363.9"/>
<polyline points="733.6,345.4 735.3,349.5 737.5,353.2 740.3,355.5 742.4,356.8 745.3,359.1 747.3,361.7 750.0,364.9"/>
<polyline points="733.6,345.4 735.2,342.7 737.5,339.5 741.6,339.0 745.3,337.6 747.4,334.4 750.0,331.7"/>
<polyline points="550.0,378.6 554.4,377.6 557.8,377.6 562.0,376.3 565.6,375.7 563.7,372.7 568.1,370.8 571.5,369.8 575.8,369.5 579.3,368.8 580.0,372.6 579.7,375.2 580.3,378.6 582.9,381.3 585.2,384.5 586.9,381.3 589.1,378.6 592.8,380.9 595.9,382.5 600.8,384.5 602.7,388.4 606.0,386.1 608.6,384.5 611.9,381.5 614.5,378.6 616.4,373.7 619.1,371.4 622.2,368.7 625.2,366.9 629.1,368.8 628.1,374.7 632.1,375.5 635.9,376.6 638.0,374.1 639.8,370.8 642.9,369.2 645.7,367.9 648.0,365.4 649.6,362.0 652.5,360.0 655.5,357.1 658.9,355.8 663.3,355.2"/>
<polyline points="550.0,400.1 552.5,397.5 555.1,394.8 557.8,392.3 559.2,389.5 560.5,386.5 561.7,383.3 563.7,380.5 565.6,375.7"/>
<polyline points="557.8,392.3 559.1,395.8 560.9,398.6 561.7,402.0 562.7,405.2 563.3,407.5 563.4,410.7 564.6,413.8 568.5,414.8 571.8,416.2 575.4,417.7 579.0,420.1 581.8,422.1 585.2,423.5 588.1,425.8 592.0,427.4 595.3,425.8 598.1,424.9 600.8,423.5 604.5,422.2 607.3,421.9 610.5,420.6 611.3,417.5 611.4,415.2 612.5,411.8 613.5,405.9 616.4,407.4 619.0,408.2 622.3,408.9 625.8,409.3 628.3,408.7 632.0,408.9 634.0,411.6 636.9,413.8 637.7,418.1 638.9,421.6 638.2,425.0 638.1,427.6 637.2,431.4 636.6,433.9 635.9,437.2 635.3,440.6 634.8,443.5 634.8,446.6 634.0,449.8 634.0,452.8 630.5,453.1 626.2,453.8 625.5,457.3 625.2,460.0"/>
<polyline points="792.0,344.4 794.1,348.0 796.9,351.2 797.9,357.1 794.8,357.8 792.0,359.1 793.0,363.0 793.9,366.9 796.9,368.5 799.6,369.9 802.7,371.8 805.9,374.5 808.6,377.6 812.0,379.5 815.5,381.3 818.4,382.5 820.0,384.5 822.5,387.1 824.2,389.3 830.1,390.3 831.7,394.4 834.0,398.1 837.3,400.4 839.8,402.0 839.1,405.7 838.9,409.8 836.9,413.2 835.9,415.7 835.7,419.2 836.0,422.3 835.9,425.5 840.8,428.4 840.8,433.3 837.9,437.2 837.3,441.4 836.7,444.8 835.9,448.9 835.2,452.6 835.7,456.0 835.0,460.0"/>
<polyline points="750.0,447.0 753.1,448.2 755.9,448.9 758.7,450.4 761.7,450.9 765.4,452.5 769.5,454.8 773.2,455.5 777.3,456.7 781.1,455.8 784.8,455.2 789.1,454.8 792.0,455.9 795.0,456.4 798.1,458.0 801.5,459.2 804.7,460.0"/>
<polyline points="750.0,323.9 746.1,320.0"/>
<polyline points="275.0,485.4 277.3,483.6 280.3,481.5 282.8,479.5 285.9,479.6 290.0,479.1 293.1,478.5 296.5,478.6 297.9,476.1 300.5,473.6 302.3,471.7 305.8,471.3 308.3,470.9 312.2,471.4 315.2,471.1 318.0,470.7 320.9,470.1 324.8,469.4 328.7,469.1 331.6,468.8 334.2,471.5 337.5,473.7 341.0,475.1 345.3,475.6 347.3,479.5 350.0,479.5"/>
<polyline points="328.7,460.0 332.1,461.6 334.1,464.4 337.5,465.9 341.1,467.4 345.3,469.8 346.1,472.9 347.0,476.0 347.3,479.5"/>
<polyline points="253.5,585.0 256.7,583.9 259.4,581.5 261.8,580.2 264.5,578.4 267.2,577.2 270.3,576.4 273.7,575.7 277.0,574.6 280.9,574.3 284.3,574.5 287.4,575.1 290.6,575.2 293.1,577.4 296.1,580.5 298.4,583.0 300.5,586.4 302.8,589.4 304.3,592.8 305.5,596.3 306.2,600.0"/>
<polyline points="321.9,600.0 322.6,597.1 322.7,594.0 323.2,590.4 323.7,587.2 324.3,583.9 325.4,580.7 325.8,577.2 326.3,574.3 327.4,570.3 327.4,567.9 328.2,564.1 328.3,561.4 328.6,557.9 329.9,554.1 329.9,551.0 330.7,547.9 331.1,544.5 331.9,541.8 331.8,538.5 332.0,534.5 333.0,531.9 333.6,528.9 334.1,524.9 334.4,522.3 334.6,518.6 334.8,515.7 335.5,512.4 336.5,509.8 339.9,509.2 343.7,508.0 346.6,508.1 350.0,506.9"/>
<polyline points="306.2,600.0 308.1,604.3 310.2,607.8 314.4,607.5 318.3,607.9 321.9,607.8 322.4,604.4 323.8,600.0"/>
<polyline points="350.0,506.9 353.3,506.1 355.7,505.9 358.6,505.6 362.3,504.3 365.2,504.3 368.2,504.2 371.6,503.1 374.4,503.0 377.6,501.7 380.5,501.4 382.8,501.2 386.1,500.6 388.7,503.1 390.4,505.1 392.3,507.2 394.9,508.8 397.0,511.2 399.1,512.9 401.3,515.8 404.1,518.3 406.7,520.1 408.6,522.5 411.4,524.6 413.9,527.1 416.4,529.7 418.4,532.3 420.6,534.5 422.6,536.4 425.4,539.3 427.3,541.2 430.1,543.6 435.0,544.0 437.1,547.5 440.0,550.1 441.8,553.8 443.8,556.1 446.0,559.7 447.7,562.0 451.8,561.6 455.0,560.6 459.4,560.6 462.2,559.9 465.3,560.5 468.6,560.2 472.1,559.8 475.0,559.2 479.3,559.9 482.7,560.1 486.7,560.6 490.2,560.4 493.4,561.3 497.5,561.6 500.9,560.6 504.3,558.6 509.2,557.7 510.8,560.9 512.1,563.5 514.4,565.9 517.0,567.6 518.9,570.4 519.4,573.2 520.7,576.1 521.4,578.8 522.9,582.1 527.7,580.1 527.1,583.5 526.9,586.3 527.3,590.0 526.5,593.8 526.8,596.7 526.8,600.0"/>
<polyline points="394.9,508.8 395.2,505.9 395.7,502.3 395.0,499.9 395.4,496.3 396.1,493.0 395.9,490.3 398.5,487.7 399.8,485.6 402.4,482.2 404.8,480.4 406.6,477.6 409.2,475.8 411.8,473.2 414.1,471.9 415.8,469.9 418.4,467.8 421.6,467.8 425.2,467.4 425.2,462.9 428.8,462.7 432.0,462.3 435.0,460.0"/>
<polyline points="460.4,460.0 463.4,461.1 467.2,462.9 470.5,461.6 473.3,460.9 477.0,460.0"/>
<polyline points="463.3,466.8 467.2,466.2 471.1,465.9 474.2,467.0 476.6,468.4 479.2,470.4 481.6,471.3 484.8,472.7 487.4,474.0 491.1,475.5 493.7,477.0 496.5,478.6 499.6,479.7 502.0,480.9 505.2,482.5 508.2,483.4 510.9,485.1 513.6,487.1 516.0,489.3 519.3,490.3 522.4,492.2 525.8,493.2 528.7,494.2 531.9,494.8 534.7,495.3 537.5,496.1 540.7,496.4 543.3,496.6 546.7,495.8 550.0,496.1"/>
<polyline points="550.0,496.1 550.0,501.0"/>
<polyline points="526.8,596.7 529.0,594.4 532.0,593.0 534.5,590.5 537.5,588.9 540.4,587.2 543.4,585.2 547.0,582.7 550.0,581.1"/>
<polyline points="524.8,600.0 524.9,603.6 525.8,607.8 528.8,608.5 532.3,608.7 535.5,608.8 535.5,612.1 536.7,615.5 537.2,619.1 537.0,621.6 537.5,625.4 540.9,625.3 543.3,626.1 547.2,626.5 550.0,626.4"/>
<polyline points="550.0,499.1 553.2,499.2 556.5,498.8 559.4,499.5 562.8,498.7 565.6,499.2 568.6,499.5 571.7,499.0 575.2,499.2 577.6,498.9 580.9,498.6 584.1,499.3 587.1,499.1 590.2,499.2 593.8,498.6 596.8,497.9 599.3,498.5 602.7,497.5 606.4,497.8 608.8,497.1 612.1,496.8 615.0,496.8 618.5,496.4 621.5,495.9 624.5,496.4 628.1,495.7 631.4,495.6 633.9,495.0 637.0,495.0 640.0,494.8 643.2,494.5 646.7,494.6 649.6,494.3 652.7,494.6 655.6,493.7 658.8,493.8 662.2,493.4 665.3,493.1 668.1,493.3 671.1,493.2"/>
<polyline points="625.2,460.0 625.4,463.3 625.9,466.9 626.1,469.6 626.3,472.9 625.8,475.9 626.2,479.5 626.6,482.4 626.7,486.1 627.6,489.5 627.3,492.1 628.1,495.7"/>
<polyline points="587.1,499.1 588.6,502.2 590.3,505.3 591.3,508.3 593.0,510.8 594.5,514.4 596.2,518.0 597.1,520.9 598.8,524.5 599.6,528.1 600.3,531.3 601.0,534.5 601.4,538.4 601.8,542.0 601.0,546.1 600.7,549.6 600.8,553.8 599.4,556.6 598.0,559.7 597.5,562.9 595.9,566.4 598.8,571.3 602.4,571.9 606.6,573.3 609.0,577.2 610.5,581.1 613.8,584.5 616.4,587.0 618.4,589.5 620.2,591.9 622.3,594.8 624.2,600.0"/>
<polyline points="550.0,496.1 550.8,499.5 552.4,502.4 552.9,504.9 552.9,508.6 551.8,511.6 552.0,514.7 553.7,517.5 555.8,520.0 557.8,522.5 557.5,526.5 557.5,530.8 556.8,534.2 557.9,537.5 559.7,540.0 560.1,543.0 561.7,545.9 564.6,548.2 566.6,550.7 569.5,552.8 567.4,555.4 565.3,557.4 563.7,559.6 564.6,565.5 562.1,567.9 559.8,569.4 561.8,571.7 564.6,573.3 561.1,575.1 557.8,577.2 553.6,578.6 550.0,580.1"/>
<polyline points="678.9,493.2 678.8,496.7 678.4,501.4 677.9,504.9 679.2,508.4 679.9,511.8 675.0,511.8 675.0,516.6 680.9,516.6 682.0,519.4 682.8,522.5 685.4,524.1 688.2,526.5 690.6,528.4 692.4,531.2 694.5,534.2 698.0,536.1 701.5,538.6 704.3,540.1 705.6,542.6 706.2,545.9 704.8,549.6 704.3,553.8 707.1,556.9 710.2,559.6 711.5,562.6 712.1,565.5 716.2,567.0 719.9,568.4"/>
<polyline points="718.9,467.8 718.8,471.6 718.5,475.2 718.0,479.5 718.7,482.8 719.1,486.0 719.3,489.6 719.9,493.2 721.2,496.4 722.8,499.5 724.4,501.7 725.8,504.9 728.5,507.6 730.6,510.2 733.6,512.7 734.4,515.9 736.2,519.4 737.5,522.5 739.9,525.1 740.9,527.4 743.1,530.1 745.3,532.3 750.0,535.2"/>
<polyline points="740.4,460.0 740.6,463.3 741.4,466.8"/>
<polyline points="750.0,535.2 755.9,535.2 755.9,541.1 759.2,540.9 762.2,539.9 766.6,539.8 769.5,539.1 772.1,538.2 775.8,537.6 777.8,537.3 781.2,536.2 784.8,534.4 789.1,532.3 793.1,533.2 796.9,534.2 801.2,533.9 804.8,533.8 808.6,534.2"/>
<polyline points="550.0,627.3 553.8,627.4 557.5,628.4 561.7,628.3 565.6,631.2 564.6,637.1 567.4,639.0 570.1,640.4 572.9,642.3 575.4,643.9 580.3,643.9 579.3,640.9 578.0,637.4 576.4,634.2 581.2,631.2"/>
<polyline points="349.5,476.0 349.9,478.5 350.0,482.0 349.8,484.8 350.2,488.3 350.4,490.8 349.9,493.8 349.7,497.3 349.5,500.1 350.1,503.5 350.0,506.5"/>
</g><g fill="none" stroke="#000" stroke-width="2.0" stroke-linejoin="round" stroke-linecap="round"><polyline points="269.1,320.0 265.2,321.2 263.1,323.0 259.4,323.9 256.5,324.8 253.4,325.9 249.6,326.8 246.9,330.2 245.7,333.7 241.0,334.8 238.7,334.0 234.0,334.6 233.2,338.5 233.0,341.5 232.8,344.2 233.1,347.7 234.0,351.2 230.3,354.0 226.2,355.2 223.2,354.0 221.3,351.2 220.4,348.7 219.9,344.1 218.4,341.5 216.7,337.9 214.5,335.6 210.6,337.4 208.6,339.5 208.1,343.1 206.6,346.4 202.2,348.4 198.8,349.3 198.1,352.7 195.9,357.1 194.8,360.3 193.9,363.0 196.9,366.9 195.2,368.6 192.0,371.8 189.6,375.0 187.1,376.6 184.9,380.0 182.2,382.5 185.0,384.8 186.4,387.2 189.1,389.3 192.0,393.2 189.1,398.1 190.6,400.8 192.0,404.0 196.9,405.9 200.4,406.3 202.7,407.7 205.7,407.9 207.7,411.5 208.6,413.8 210.8,416.2 212.5,419.6 213.5,423.6 213.5,426.6 213.5,429.4 214.0,433.3 214.5,437.2 208.6,437.2 206.6,439.1 208.7,440.9 210.5,444.0 213.8,447.1 216.4,448.9 220.3,452.8 223.6,454.2 228.1,454.8"/>
<polyline points="269.1,320.0 272.7,319.9 276.8,321.7 279.3,321.8 282.8,322.0 286.2,321.9 290.6,322.9 294.5,320.0"/>
<polyline points="269.1,320.0 271.4,317.1 275.0,313.8 277.7,315.1 281.7,315.5 284.8,316.7 288.2,317.9 290.5,319.0 294.5,320.0"/>
<polyline points="302.3,320.0 306.5,321.9 309.2,324.3 312.1,325.9 314.2,327.1 317.5,329.1 319.9,331.7 321.7,335.0 324.5,336.2 325.8,339.5 327.6,341.6 331.6,343.9 333.6,347.3 337.5,349.3 343.4,349.3 345.1,350.9 347.1,353.9 350.0,356.1"/>
<polyline points="228.1,454.8 231.6,452.8 233.8,449.1 235.9,447.0 238.6,446.1 242.3,443.6 244.1,444.0 247.7,442.1 250.9,441.7 255.2,441.0 259.4,440.1 262.6,441.9 264.4,443.1 267.2,445.0 270.7,446.2 273.5,446.9 277.0,447.9 280.3,448.5 282.9,450.0 286.7,450.9 287.0,454.1 289.2,457.6 289.6,460.0"/>
<polyline points="350.0,359.1 354.6,357.3 357.8,356.1 361.3,354.5 363.7,351.2 366.3,350.3 369.5,348.3 372.5,348.4 375.8,350.1 379.3,350.3 381.6,352.5 385.2,354.2 388.1,352.3 391.5,351.4 394.9,350.3 397.8,353.9 400.8,356.1 404.5,358.6 406.6,362.0 410.8,364.1 414.0,366.5 416.4,367.9 420.4,366.4 424.2,365.9 426.9,364.4 428.1,361.0 431.1,365.9 434.2,365.9 437.5,367.7 439.8,367.9 443.5,368.0 446.6,366.8 448.4,365.7 451.6,364.9 452.5,362.5 453.5,359.1 454.7,356.2 455.5,352.2 452.9,350.4 451.1,348.8 447.7,346.4 445.8,345.1 441.8,343.0 439.8,341.5 436.5,339.1 434.0,337.6 431.8,333.9 431.1,331.7 433.5,329.8 435.9,326.8 440.5,326.2 443.8,323.9 445.7,320.0"/>
<polyline points="445.7,320.0 444.1,317.1 441.8,312.8 443.9,310.7 447.7,307.0 452.1,305.5 456.0,306.2 459.4,305.0 462.7,304.9 467.2,303.0 464.0,300.0 461.3,297.2 458.7,296.6 455.5,295.2 454.0,291.9 451.6,289.4 456.4,286.4 451.6,283.5 448.6,281.6 450.9,279.0 452.8,277.6 455.5,275.7 458.6,276.1 463.8,276.4 467.2,277.7 471.0,278.8 475.0,281.6 478.9,277.7 482.3,276.2 484.2,276.6 487.6,275.6 490.6,274.7 493.8,274.0 496.3,272.6 498.8,272.0 502.3,271.8 505.3,271.2 509.9,270.8 511.9,270.6 516.0,270.8 518.0,265.9 520.2,265.8 524.6,265.0 527.6,263.8 529.7,263.0 533.5,261.8 537.5,261.1 540.9,259.9 543.8,259.4 547.2,259.5 550.0,258.1"/>
<polyline points="550.0,258.1 553.4,257.3 557.8,256.2 561.6,255.5 563.7,254.2 564.6,250.9 565.6,248.4 568.9,247.3 573.4,244.5 576.8,243.0 579.3,242.5 582.7,243.9 586.5,244.1 589.1,245.4 592.1,246.3 595.9,248.4 599.5,247.2 602.7,244.5 606.6,247.4 607.7,250.3 607.7,253.8 608.6,258.1 609.0,262.0 610.5,265.9 608.9,268.5 608.6,271.8 610.1,274.1 612.5,276.7 617.0,275.7 620.3,275.7 623.4,272.6 626.2,269.8 630.1,273.8 632.0,277.7 634.9,276.6 639.0,277.0 641.8,275.7 646.1,276.9 649.6,276.7 652.5,275.7 652.5,279.2 651.6,283.5 648.6,285.6 646.7,287.4 647.7,293.3 650.5,291.5 653.6,289.3 655.5,286.4 660.2,288.2 663.3,289.4 665.6,286.0 667.2,281.6 671.1,281.1 675.0,279.6 678.3,277.0 679.9,274.2 682.8,271.8 685.5,270.0 687.7,267.7 690.6,266.3 692.6,264.0 696.3,263.2 697.6,260.5 701.4,259.1 700.4,265.0 695.5,267.9 698.4,270.9 700.4,273.8 703.0,275.3 705.1,278.3 708.0,280.3 710.2,281.6 713.4,284.8 715.7,287.2 718.2,289.7 719.9,291.3 721.7,293.6 723.7,296.7 726.6,299.0 727.7,301.1 729.6,302.7 731.0,305.0 733.0,307.2 735.4,310.1 737.5,312.8 740.3,314.6 740.7,318.3 743.4,320.0"/>
<polyline points="750.0,323.9 751.3,326.9 754.6,328.6 755.5,330.7 757.8,333.7 758.6,335.9 760.4,339.8 761.9,341.3 764.8,345.4 765.6,347.3 767.6,349.3 768.8,345.1 771.5,341.5 774.3,337.9 775.4,334.6 779.5,335.5 783.2,335.6 785.4,337.3 787.1,340.5 790.0,343.0 792.0,344.4 796.9,343.4 799.7,342.4 803.1,342.9 806.5,340.7 808.6,340.5 811.7,338.2 814.7,336.8 816.4,333.7 819.6,334.7 823.6,333.6 826.2,334.6 828.6,337.1 830.9,337.8 834.0,339.5 836.2,341.9 838.4,344.2 839.8,347.3 843.9,348.9 847.7,350.3 850.7,352.8 855.5,354.2 857.9,357.3 859.4,359.1 862.7,360.1 867.2,361.0 869.8,361.8 873.9,362.4 877.0,362.0 878.3,358.6 880.9,356.1 882.0,354.5 884.8,351.2 886.0,353.5 886.7,357.1 889.8,359.0 891.8,361.5 894.5,363.0 897.9,364.4 900.4,365.9 896.6,368.1 893.6,370.8 893.4,374.1 893.6,378.6 891.3,381.3 891.1,384.0 888.7,386.4 885.2,387.5 882.9,390.0 878.9,392.3 877.9,395.9 878.3,398.1 877.0,402.0 877.5,404.8 880.4,408.6 880.9,411.8 881.4,415.3 883.5,417.6 884.8,421.6 883.0,424.3 882.8,427.4 881.1,429.2 878.5,431.1 875.0,433.3 871.1,437.2 867.4,436.2 864.4,436.1 861.6,436.7 857.4,436.2 853.2,435.8 850.7,435.3 847.6,433.8 844.1,434.1 840.8,433.3"/>
<polyline points="289.6,460.0 287.6,462.5 286.5,464.5 284.8,467.8 282.8,471.9 281.0,474.4 278.9,477.6 277.5,481.4 275.0,485.4 271.5,485.8 268.2,485.7 266.3,484.9 262.5,483.8 259.4,484.4 255.5,485.9 253.3,486.6 249.6,487.3 246.4,490.4 245.3,493.2 241.8,495.2 238.2,495.5 234.0,496.1 231.2,497.1 227.9,500.2 226.2,501.0 224.2,505.9 226.6,508.0 229.4,511.3 232.0,512.7 233.8,516.0 234.5,518.6 235.2,522.1 235.9,524.5 236.9,526.9 237.2,531.1 237.9,534.2 237.7,538.9 236.9,542.0 240.8,542.9 243.8,544.0 245.7,548.4 247.7,551.8 251.4,552.8 254.0,554.6 257.4,555.7 260.3,558.9 263.3,561.6 262.6,564.7 260.8,567.5 259.4,571.3 257.5,574.6 254.5,577.2 254.2,580.8 253.5,585.0"/>
<polyline points="241.8,495.2 239.6,496.4 235.9,498.1 239.8,498.9 242.4,500.3 245.7,502.0 247.7,503.7 249.6,506.9 245.7,507.9"/>
<polyline points="678.9,493.2 681.4,488.8 682.8,485.4 686.2,482.8 687.8,480.4 690.6,477.6 693.0,475.3 696.3,473.7 699.7,472.3 702.3,470.7 705.3,469.8 708.1,470.0 712.4,468.7 715.4,468.1 718.0,467.8 721.8,467.2 724.8,467.4 728.7,467.9 730.7,466.5 734.6,466.6 737.6,467.8 741.4,466.8 744.2,462.5 745.3,460.0"/>
<polyline points="719.9,568.4 723.3,568.7 727.0,568.8 730.9,568.9 733.6,568.4 736.9,567.2 741.3,566.9 745.3,566.4 750.0,565.5"/>
<polyline points="624.2,594.8 624.9,592.7 627.7,588.4 629.0,586.1 631.2,584.5 632.0,581.1 635.6,580.9 639.8,580.0 643.8,580.1 646.8,580.5 649.9,582.1 653.5,581.0 656.0,583.3 659.4,583.0 663.8,585.2 667.2,587.0 671.4,588.3 675.0,588.9 674.1,584.8 673.9,580.5 674.0,577.2 675.8,573.4 677.0,571.3 679.6,570.1 684.2,567.7 686.7,566.4 690.6,567.7 692.6,568.5 696.5,568.4 699.1,569.6 702.2,570.3 706.2,572.3 710.0,573.2 712.4,572.5 716.7,573.2 719.9,573.3 719.9,568.4"/>
<polyline points="834.0,460.0 833.2,462.5 833.6,466.0 833.0,469.8 831.3,472.1 829.1,475.6 830.1,481.5 833.9,482.8 835.6,482.7 838.9,484.4 839.8,489.3 835.9,491.2 830.1,492.2 827.8,491.5 824.2,489.3 820.0,490.5 816.4,493.2 814.0,495.2 809.8,495.1 806.6,497.1 803.2,499.9 798.8,501.0 795.5,502.7 793.0,504.9 796.9,508.8 800.0,511.2 801.8,512.7 803.0,516.9 802.7,520.5 804.2,525.3 806.6,528.4 808.2,531.9 808.6,534.2 810.2,537.8 812.5,542.0 815.3,546.7 816.4,549.8 812.8,552.0 810.5,555.7 813.5,559.6 809.9,561.9 807.6,563.5 807.2,566.8 807.6,571.3 809.1,576.1 810.5,579.1 808.6,581.1 806.1,578.4 803.1,576.8 801.0,574.7 798.8,573.3 795.1,571.3 792.5,569.3 789.3,568.3 787.1,566.4 783.7,565.9 778.6,565.7 775.4,565.5 771.2,565.1 768.1,566.7 764.3,566.2 761.7,566.4 756.9,566.5 754.8,567.7 750.0,567.4"/>
<polyline points="581.2,631.2 584.4,628.6 585.4,626.3 589.0,625.5 591.9,623.1 593.7,621.0 595.9,618.6 598.6,616.7 600.6,613.8 604.6,613.2 606.6,610.7 610.1,608.9 612.0,605.6 614.5,603.9 617.4,600.0"/>
</g><g fill="none" stroke="#8c8c8c" stroke-width="0.7" stroke-linejoin="round" stroke-linecap="round"><polyline points="269.1,320.0 265.2,321.2 263.1,323.0 259.4,323.9 256.5,324.8 253.4,325.9 249.6,326.8 246.9,330.2 245.7,333.7 241.0,334.8 238.7,334.0 234.0,334.6 233.2,338.5 233.0,341.5 232.8,344.2 233.1,347.7 234.0,351.2 230.3,354.0 226.2,355.2 223.2,354.0 221.3,351.2 220.4,348.7 219.9,344.1 218.4,341.5 216.7,337.9 214.5,335.6 210.6,337.4 208.6,339.5 208.1,343.1 206.6,346.4 202.2,348.4 198.8,349.3 198.1,352.7 195.9,357.1 194.8,360.3 193.9,363.0 196.9,366.9 195.2,368.6 192.0,371.8 189.6,375.0 187.1,376.6 184.9,380.0 182.2,382.5 185.0,384.8 186.4,387.2 189.1,389.3 192.0,393.2 189.1,398.1 190.6,400.8 192.0,404.0 196.9,405.9 200.4,406.3 202.7,407.7 205.7,407.9 207.7,411.5 208.6,413.8 210.8,416.2 212.5,419.6 213.5,423.6 213.5,426.6 213.5,429.4 214.0,433.3 214.5,437.2 208.6,437.2 206.6,439.1 208.7,440.9 210.5,444.0 213.8,447.1 216.4,448.9 220.3,452.8 223.6,454.2 228.1,454.8"/>
<polyline points="269.1,320.0 272.7,319.9 276.8,321.7 279.3,321.8 282.8,322.0 286.2,321.9 290.6,322.9 294.5,320.0"/>
<polyline points="269.1,320.0 271.4,317.1 275.0,313.8 277.7,315.1 281.7,315.5 284.8,316.7 288.2,317.9 290.5,319.0 294.5,320.0"/>
<polyline points="302.3,320.0 306.5,321.9 309.2,324.3 312.1,325.9 314.2,327.1 317.5,329.1 319.9,331.7 321.7,335.0 324.5,336.2 325.8,339.5 327.6,341.6 331.6,343.9 333.6,347.3 337.5,349.3 343.4,349.3 345.1,350.9 347.1,353.9 350.0,356.1"/>
<polyline points="228.1,454.8 231.6,452.8 233.8,449.1 235.9,447.0 238.6,446.1 242.3,443.6 244.1,444.0 247.7,442.1 250.9,441.7 255.2,441.0 259.4,440.1 262.6,441.9 264.4,443.1 267.2,445.0 270.7,446.2 273.5,446.9 277.0,447.9 280.3,448.5 282.9,450.0 286.7,450.9 287.0,454.1 289.2,457.6 289.6,460.0"/>
<polyline points="350.0,359.1 354.6,357.3 357.8,356.1 361.3,354.5 363.7,351.2 366.3,350.3 369.5,348.3 372.5,348.4 375.8,350.1 379.3,350.3 381.6,352.5 385.2,354.2 388.1,352.3 391.5,351.4 394.9,350.3 397.8,353.9 400.8,356.1 404.5,358.6 406.6,362.0 410.8,364.1 414.0,366.5 416.4,367.9 420.4,366.4 424.2,365.9 426.9,364.4 428.1,361.0 431.1,365.9 434.2,365.9 437.5,367.7 439.8,367.9 443.5,368.0 446.6,366.8 448.4,365.7 451.6,364.9 452.5,362.5 453.5,359.1 454.7,356.2 455.5,352.2 452.9,350.4 451.1,348.8 447.7,346.4 445.8,345.1 441.8,343.0 439.8,341.5 436.5,339.1 434.0,337.6 431.8,333.9 431.1,331.7 433.5,329.8 435.9,326.8 440.5,326.2 443.8,323.9 445.7,320.0"/>
<polyline points="445.7,320.0 444.1,317.1 441.8,312.8 443.9,310.7 447.7,307.0 452.1,305.5 456.0,306.2 459.4,305.0 462.7,304.9 467.2,303.0 464.0,300.0 461.3,297.2 458.7,296.6 455.5,295.2 454.0,291.9 451.6,289.4 456.4,286.4 451.6,283.5 448.6,281.6 450.9,279.0 452.8,277.6 455.5,275.7 458.6,276.1 463.8,276.4 467.2,277.7 471.0,278.8 475.0,281.6 478.9,277.7 482.3,276.2 484.2,276.6 487.6,275.6 490.6,274.7 493.8,274.0 496.3,272.6 498.8,272.0 502.3,271.8 505.3,271.2 509.9,270.8 511.9,270.6 516.0,270.8 518.0,265.9 520.2,265.8 524.6,265.0 527.6,263.8 529.7,263.0 533.5,261.8 537.5,261.1 540.9,259.9 543.8,259.4 547.2,259.5 550.0,258.1"/>
<polyline points="550.0,258.1 553.4,257.3 557.8,256.2 561.6,255.5 563.7,254.2 564.6,250.9 565.6,248.4 568.9,247.3 573.4,244.5 576.8,243.0 579.3,242.5 582.7,243.9 586.5,244.1 589.1,245.4 592.1,246.3 595.9,248.4 599.5,247.2 602.7,244.5 606.6,247.4 607.7,250.3 607.7,253.8 608.6,258.1 609.0,262.0 610.5,265.9 608.9,268.5 608.6,271.8 610.1,274.1 612.5,276.7 617.0,275.7 620.3,275.7 623.4,272.6 626.2,269.8 630.1,273.8 632.0,277.7 634.9,276.6 639.0,277.0 641.8,275.7 646.1,276.9 649.6,276.7 652.5,275.7 652.5,279.2 651.6,283.5 648.6,285.6 646.7,287.4 647.7,293.3 650.5,291.5 653.6,289.3 655.5,286.4 660.2,288.2 663.3,289.4 665.6,286.0 667.2,281.6 671.1,281.1 675.0,279.6 678.3,277.0 679.9,274.2 682.8,271.8 685.5,270.0 687.7,267.7 690.6,266.3 692.6,264.0 696.3,263.2 697.6,260.5 701.4,259.1 700.4,265.0 695.5,267.9 698.4,270.9 700.4,273.8 703.0,275.3 705.1,278.3 708.0,280.3 710.2,281.6 713.4,284.8 715.7,287.2 718.2,289.7 719.9,291.3 721.7,293.6 723.7,296.7 726.6,299.0 727.7,301.1 729.6,302.7 731.0,305.0 733.0,307.2 735.4,310.1 737.5,312.8 740.3,314.6 740.7,318.3 743.4,320.0"/>
<polyline points="750.0,323.9 751.3,326.9 754.6,328.6 755.5,330.7 757.8,333.7 758.6,335.9 760.4,339.8 761.9,341.3 764.8,345.4 765.6,347.3 767.6,349.3 768.8,345.1 771.5,341.5 774.3,337.9 775.4,334.6 779.5,335.5 783.2,335.6 785.4,337.3 787.1,340.5 790.0,343.0 792.0,344.4 796.9,343.4 799.7,342.4 803.1,342.9 806.5,340.7 808.6,340.5 811.7,338.2 814.7,336.8 816.4,333.7 819.6,334.7 823.6,333.6 826.2,334.6 828.6,337.1 830.9,337.8 834.0,339.5 836.2,341.9 838.4,344.2 839.8,347.3 843.9,348.9 847.7,350.3 850.7,352.8 855.5,354.2 857.9,357.3 859.4,359.1 862.7,360.1 867.2,361.0 869.8,361.8 873.9,362.4 877.0,362.0 878.3,358.6 880.9,356.1 882.0,354.5 884.8,351.2 886.0,353.5 886.7,357.1 889.8,359.0 891.8,361.5 894.5,363.0 897.9,364.4 900.4,365.9 896.6,368.1 893.6,370.8 893.4,374.1 893.6,378.6 891.3,381.3 891.1,384.0 888.7,386.4 885.2,387.5 882.9,390.0 878.9,392.3 877.9,395.9 878.3,398.1 877.0,402.0 877.5,404.8 880.4,408.6 880.9,411.8 881.4,415.3 883.5,417.6 884.8,421.6 883.0,424.3 882.8,427.4 881.1,429.2 878.5,431.1 875.0,433.3 871.1,437.2 867.4,436.2 864.4,436.1 861.6,436.7 857.4,436.2 853.2,435.8 850.7,435.3 847.6,433.8 844.1,434.1 840.8,433.3"/>
<polyline points="289.6,460.0 287.6,462.5 286.5,464.5 284.8,467.8 282.8,471.9 281.0,474.4 278.9,477.6 277.5,481.4 275.0,485.4 271.5,485.8 268.2,485.7 266.3,484.9 262.5,483.8 259.4,484.4 255.5,485.9 253.3,486.6 249.6,487.3 246.4,490.4 245.3,493.2 241.8,495.2 238.2,495.5 234.0,496.1 231.2,497.1 227.9,500.2 226.2,501.0 224.2,505.9 226.6,508.0 229.4,511.3 232.0,512.7 233.8,516.0 234.5,518.6 235.2,522.1 235.9,524.5 236.9,526.9 237.2,531.1 237.9,534.2 237.7,538.9 236.9,542.0 240.8,542.9 243.8,544.0 245.7,548.4 247.7,551.8 251.4,552.8 254.0,554.6 257.4,555.7 260.3,558.9 263.3,561.6 262.6,564.7 260.8,567.5 259.4,571.3 257.5,574.6 254.5,577.2 254.2,580.8 253.5,585.0"/>
<polyline points="241.8,495.2 239.6,496.4 235.9,498.1 239.8,498.9 242.4,500.3 245.7,502.0 247.7,503.7 249.6,506.9 245.7,507.9"/>
<polyline points="678.9,493.2 681.4,488.8 682.8,485.4 686.2,482.8 687.8,480.4 690.6,477.6 693.0,475.3 696.3,473.7 699.7,472.3 702.3,470.7 705.3,469.8 708.1,470.0 712.4,468.7 715.4,468.1 718.0,467.8 721.8,467.2 724.8,467.4 728.7,467.9 730.7,466.5 734.6,466.6 737.6,467.8 741.4,466.8 744.2,462.5 745.3,460.0"/>
<polyline points="719.9,568.4 723.3,568.7 727.0,568.8 730.9,568.9 733.6,568.4 736.9,567.2 741.3,566.9 745.3,566.4 750.0,565.5"/>
<polyline points="624.2,594.8 624.9,592.7 627.7,588.4 629.0,586.1 631.2,584.5 632.0,581.1 635.6,580.9 639.8,580.0 643.8,580.1 646.8,580.5 649.9,582.1 653.5,581.0 656.0,583.3 659.4,583.0 663.8,585.2 667.2,587.0 671.4,588.3 675.0,588.9 674.1,584.8 673.9,580.5 674.0,577.2 675.8,573.4 677.0,571.3 679.6,570.1 684.2,567.7 686.7,566.4 690.6,567.7 692.6,568.5 696.5,568.4 699.1,569.6 702.2,570.3 706.2,572.3 710.0,573.2 712.4,572.5 716.7,573.2 719.9,573.3 719.9,568.4"/>
<polyline points="834.0,460.0 833.2,462.5 833.6,466.0 833.0,469.8 831.3,472.1 829.1,475.6 830.1,481.5 833.9,482.8 835.6,482.7 838.9,484.4 839.8,489.3 835.9,491.2 830.1,492.2 827.8,491.5 824.2,489.3 820.0,490.5 816.4,493.2 814.0,495.2 809.8,495.1 806.6,497.1 803.2,499.9 798.8,501.0 795.5,502.7 793.0,504.9 796.9,508.8 800.0,511.2 801.8,512.7 803.0,516.9 802.7,520.5 804.2,525.3 806.6,528.4 808.2,531.9 808.6,534.2 810.2,537.8 812.5,542.0 815.3,546.7 816.4,549.8 812.8,552.0 810.5,555.7 813.5,559.6 809.9,561.9 807.6,563.5 807.2,566.8 807.6,571.3 809.1,576.1 810.5,579.1 808.6,581.1 806.1,578.4 803.1,576.8 801.0,574.7 798.8,573.3 795.1,571.3 792.5,569.3 789.3,568.3 787.1,566.4 783.7,565.9 778.6,565.7 775.4,565.5 771.2,565.1 768.1,566.7 764.3,566.2 761.7,566.4 756.9,566.5 754.8,567.7 750.0,567.4"/>
<polyline points="581.2,631.2 584.4,628.6 585.4,626.3 589.0,625.5 591.9,623.1 593.7,621.0 595.9,618.6 598.6,616.7 600.6,613.8 604.6,613.2 606.6,610.7 610.1,608.9 612.0,605.6 614.5,603.9 617.4,600.0"/>
</g>
<!-- clabels.svg -->
<rect x="372.5" y="349.3" width="47.6" height="21.4" fill="none" stroke="#3030ff" stroke-width="0.5"/><text class="cl" x="396.3" y="366.9" text-anchor="middle">1010</text>
<rect x="529.7" y="271.8" width="47.6" height="21.4" fill="none" stroke="#3030ff" stroke-width="0.5"/><text class="cl" x="553.5" y="289.4" text-anchor="middle">1010</text>
<rect x="883.8" y="409.5" width="47.6" height="21.4" fill="none" stroke="#3030ff" stroke-width="0.5"/><text class="cl" x="907.6" y="427.1" text-anchor="middle">1020</text>
<rect x="334.6" y="512.3" width="47.6" height="21.4" fill="none" stroke="#3030ff" stroke-width="0.5"/><text class="cl" x="358.4" y="529.9" text-anchor="middle">1020</text>
<rect x="571.5" y="593.6" width="47.6" height="21.4" fill="none" stroke="#3030ff" stroke-width="0.5"/><text class="cl" x="595.3" y="611.2" text-anchor="middle">1020</text>

<!-- cities.svg -->
<circle cx="281.2" cy="330.2" r="4" fill="#000"/><text class="city" x="286.5" y="333.8">Uralsk</text>
<circle cx="268.2" cy="440.5" r="4" fill="#000"/><text class="city" x="273.5" y="444.1">Atyrau</text>
<circle cx="376.8" cy="371.2" r="4" fill="#000"/><text class="city" x="382.1" y="374.8">Aktobe</text>
<circle cx="490.0" cy="302.0" r="4" fill="#000"/><text class="city" x="495.3" y="305.6">Kostanay</text>
<circle cx="578.7" cy="262.0" r="4" fill="#000"/><text class="city" x="584.0" y="265.6">Petropavlovsk</text>
<circle cx="584.2" cy="300.1" r="4" fill="#000"/><text class="city" x="589.5" y="303.7">Kokshetau</text>
<circle cx="709.2" cy="316.8" r="4" fill="#000"/><text class="city" x="714.5" y="320.4">Pavlodar</text>
<circle cx="651.6" cy="390.7" r="4" fill="#000"/><text class="city" x="656.9" y="394.3">Karaganda</text>
<circle cx="558.2" cy="448.9" r="4" fill="#000"/><text class="city" x="563.5" y="452.5">Zheskazgan</text>
<circle cx="816.0" cy="362.0" r="4" fill="#000"/><text class="city" x="821.3" y="365.6">Ustkamen</text>
<circle cx="236.3" cy="527.8" r="4" fill="#000"/><text class="city" x="241.6" y="531.4">Aktau</text>
<circle cx="516.6" cy="529.7" r="4" fill="#000"/><text class="city" x="521.9" y="533.3">Kyzylorda</text>
<circle cx="630.7" cy="579.1" r="4" fill="#000"/><text class="city" x="636.0" y="582.7">Taraz</text>
<circle cx="599.8" cy="597.0" r="4" fill="#000"/><text class="city" x="605.1" y="600.6">Shimkent</text>
<circle cx="762.7" cy="508.2" r="4" fill="#000"/><text class="city" x="768.0" y="511.8">Taldykurgan</text>
<polygon points="620.0,349.5 621.5,353.6 625.9,353.8 622.5,356.5 623.6,360.7 620.0,358.3 616.4,360.7 617.5,356.5 614.1,353.8 618.5,353.6" fill="none" stroke="#ff0000" stroke-width="1.3"/><text class="cap" x="626.0" y="359.7">Astana</text>
<polygon points="740.4,555.0 741.9,559.1 746.3,559.3 742.9,562.0 744.0,566.2 740.4,563.8 736.8,566.2 737.9,562.0 734.5,559.3 738.9,559.1" fill="none" stroke="#ff0000" stroke-width="1.3"/><text class="cap" x="746.4" y="565.2">Almaty</text>

</g>
<rect x="153.5" y="182.5" width="784" height="522" fill="none" stroke="#111" stroke-width="1.4"/>
<g stroke="#000" stroke-width="1.3">
<path d="M137.6 217.3H153M137.6 274.4H153M137.6 330.8H153M137.6 387.4H153M137.6 443.7H153M137.6 499.4H153M137.6 555.0H153M137.6 611.4H153M137.6 667.8H153"/>
<path d="M174.4 704V720M286 704V720M395 704V720M502.6 704V720M610 704V720M717.6 704V720M827 704V720"/>
</g>
<g class="ax" text-anchor="end"><text x="127.2" y="224.3">54°N</text><text x="127.2" y="281.4">52°N</text><text x="127.2" y="337.8">50°N</text><text x="127.2" y="394.4">48°N</text><text x="127.2" y="450.7">46°N</text><text x="127.2" y="506.4">44°N</text><text x="127.2" y="562.0">42°N</text><text x="127.2" y="618.4">40°N</text><text x="127.2" y="674.8">38°N</text></g>
<g class="ax" text-anchor="middle">
<text x="174.4" y="747">50°E</text><text x="286" y="747">55°E</text><text x="395" y="747">60°E</text>
<text x="502.6" y="747">65°E</text><text x="610" y="747">70°E</text><text x="717.6" y="747">75°E</text><text x="827" y="747">80°E</text>
</g>
<text class="t1" x="153" y="27">KAZHYDROMET REAL-TIME WRF</text>
<text class="t1" x="153" y="51" xml:space="preserve">Surface Air Temperature  (C)</text>
<text class="t1" x="153" y="75" xml:space="preserve">Sea Level Pressure  (hPa)</text>
<text class="t2" x="156" y="148.8" xml:space="preserve">Surface Air Temperature   (C)</text>
<text class="t2" x="156" y="163.9" xml:space="preserve">Sea Level Pressure   (hPa)</text>
<text class="t3" x="938" y="75.8" text-anchor="end">Init: 2026-02-25_00:00:00</text>
<text class="t3" x="938" y="91.4" text-anchor="end">Valid: 2026-03-06_06:00:00</text>
<text class="t2" x="545.4" y="808.7" text-anchor="middle" style="font-size:15.5px">Surface Air Temperature (C)</text>
<g stroke="#333" stroke-width="0.8">
<rect x="295.8" y="819.8" width="71.4" height="27.6" fill="#4b0082"/>
<rect x="367.2" y="819.8" width="71.4" height="27.6" fill="#663399"/>
<rect x="438.6" y="819.8" width="71.4" height="27.6" fill="#003399"/>
<rect x="510" y="819.8" width="71.4" height="27.6" fill="#3399ff"/>
<rect x="581.4" y="819.8" width="71.4" height="27.6" fill="#c6e6ff"/>
<rect x="652.8" y="819.8" width="71.4" height="27.6" fill="#ffffff"/>
<rect x="724.2" y="819.8" width="71.4" height="27.6" fill="#ffffc8"/>
</g>
<g class="cb" text-anchor="middle">
<text x="367.2" y="878">-20</text><text x="438.6" y="878">-15</text><text x="510" y="878">-10</text>
<text x="581.4" y="878">-5</text><text x="652.8" y="878">0</text><text x="724.2" y="878">5</text>
</g>
</svg></body></html>
